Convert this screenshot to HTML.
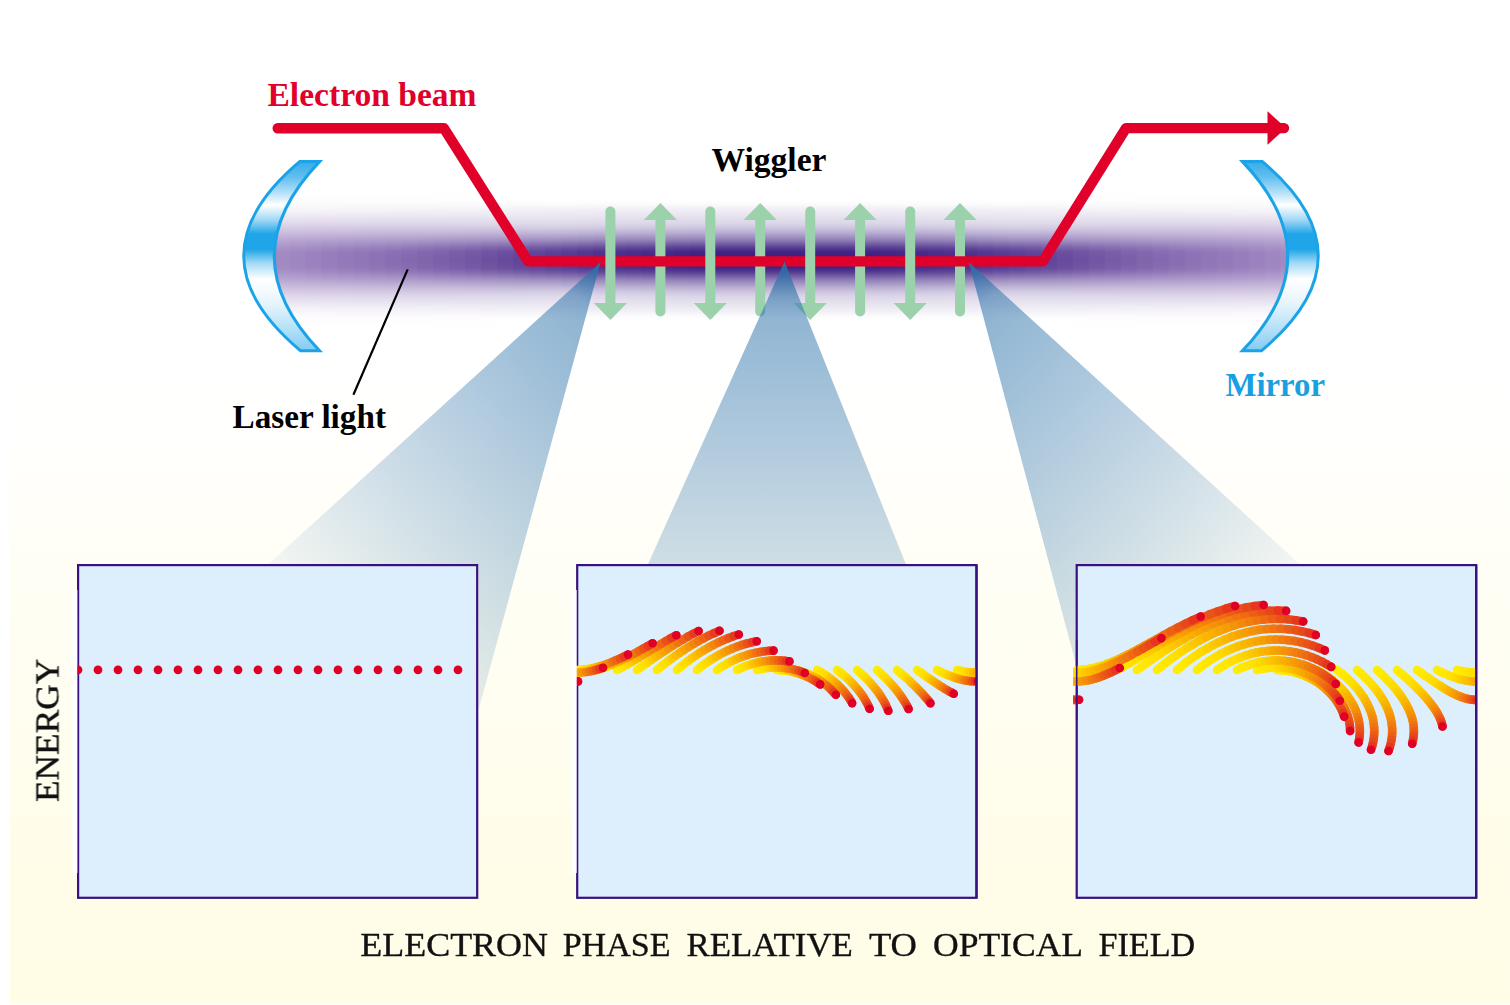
<!DOCTYPE html>
<html><head><meta charset="utf-8"><title>Free-electron laser</title>
<style>
html,body{margin:0;padding:0;background:#fff;}
body{width:1510px;height:1005px;overflow:hidden;font-family:"Liberation Serif",serif;}
svg{display:block;position:absolute;left:0;top:0;}
text{font-family:"Liberation Serif",serif;}
</style></head><body>
<svg width="1510" height="1005" viewBox="0 0 1510 1005">
<defs>
<linearGradient id="bg" x1="0" y1="0" x2="0" y2="1">
<stop offset="0" stop-color="#ffffff"/><stop offset="0.38" stop-color="#ffffff"/><stop offset="0.60" stop-color="#fffef4"/><stop offset="0.85" stop-color="#fffde9"/><stop offset="1" stop-color="#fffde6"/>
</linearGradient>
<linearGradient id="beamA" x1="0" y1="186" x2="0" y2="336" gradientUnits="userSpaceOnUse">
<stop offset="0" stop-color="#9a80bb" stop-opacity="0"/>
<stop offset="0.12" stop-color="#9a80bb" stop-opacity="0.10"/>
<stop offset="0.25" stop-color="#9a80bb" stop-opacity="0.42"/>
<stop offset="0.38" stop-color="#9a80bb" stop-opacity="0.82"/>
<stop offset="0.5" stop-color="#987dba" stop-opacity="1"/>
<stop offset="0.62" stop-color="#9a80bb" stop-opacity="0.82"/>
<stop offset="0.75" stop-color="#9a80bb" stop-opacity="0.42"/>
<stop offset="0.88" stop-color="#9a80bb" stop-opacity="0.10"/>
<stop offset="1" stop-color="#9a80bb" stop-opacity="0"/>
</linearGradient>
<radialGradient id="beamB" cx="0" cy="0" r="1" gradientUnits="userSpaceOnUse" gradientTransform="translate(785 261) scale(400 46)">
<stop offset="0" stop-color="#3a1a82" stop-opacity="1"/>
<stop offset="0.35" stop-color="#3d1d84" stop-opacity="0.92"/>
<stop offset="0.6" stop-color="#45258a" stop-opacity="0.65"/>
<stop offset="0.8" stop-color="#4d2d90" stop-opacity="0.32"/>
<stop offset="1" stop-color="#553596" stop-opacity="0"/>
</radialGradient>
<linearGradient id="mir" x1="0" y1="160" x2="0" y2="352" gradientUnits="userSpaceOnUse">
<stop offset="0" stop-color="#32aaea"/>
<stop offset="0.09" stop-color="#62bfef"/>
<stop offset="0.17" stop-color="#b5e0f8"/>
<stop offset="0.235" stop-color="#ffffff"/>
<stop offset="0.315" stop-color="#9dd6f5"/>
<stop offset="0.385" stop-color="#20a5e8"/>
<stop offset="0.465" stop-color="#20a5e8"/>
<stop offset="0.535" stop-color="#a0d8f5"/>
<stop offset="0.62" stop-color="#ffffff"/>
<stop offset="0.75" stop-color="#e6f4fc"/>
<stop offset="0.89" stop-color="#b0dff7"/>
<stop offset="1" stop-color="#7fcaf2"/>
</linearGradient>
<linearGradient id="cone1" x1="600.7" y1="262" x2="236.6" y2="589.8" gradientUnits="userSpaceOnUse">
<stop offset="0" stop-color="#2d73aa" stop-opacity="0.95"/>
<stop offset="0.031" stop-color="#2d73aa" stop-opacity="0.72"/>
<stop offset="0.082" stop-color="#2d73aa" stop-opacity="0.545"/>
<stop offset="0.5" stop-color="#2d73aa" stop-opacity="0.30"/>
<stop offset="1" stop-color="#2d73aa" stop-opacity="0"/>
</linearGradient>
<linearGradient id="cone2" x1="784.5" y1="261.5" x2="784.5" y2="751.5" gradientUnits="userSpaceOnUse">
<stop offset="0" stop-color="#2d73aa" stop-opacity="0.95"/>
<stop offset="0.031" stop-color="#2d73aa" stop-opacity="0.72"/>
<stop offset="0.082" stop-color="#2d73aa" stop-opacity="0.545"/>
<stop offset="0.5" stop-color="#2d73aa" stop-opacity="0.30"/>
<stop offset="1" stop-color="#2d73aa" stop-opacity="0"/>
</linearGradient>
<linearGradient id="cone3" x1="968.7" y1="262" x2="1332.8" y2="589.8" gradientUnits="userSpaceOnUse">
<stop offset="0" stop-color="#2d73aa" stop-opacity="0.95"/>
<stop offset="0.031" stop-color="#2d73aa" stop-opacity="0.72"/>
<stop offset="0.082" stop-color="#2d73aa" stop-opacity="0.545"/>
<stop offset="0.5" stop-color="#2d73aa" stop-opacity="0.30"/>
<stop offset="1" stop-color="#2d73aa" stop-opacity="0"/>
</linearGradient>
<linearGradient id="bs0" x1="0" y1="188.0" x2="0" y2="332.0" gradientUnits="userSpaceOnUse"><stop offset="0.0000" stop-color="#ffffff"/><stop offset="0.0278" stop-color="#ffffff"/><stop offset="0.0556" stop-color="#ffffff"/><stop offset="0.0833" stop-color="#ffffff"/><stop offset="0.1111" stop-color="#fbfafc"/><stop offset="0.1389" stop-color="#f3f1f7"/><stop offset="0.1667" stop-color="#edeaf3"/><stop offset="0.1944" stop-color="#e7e3ef"/><stop offset="0.2222" stop-color="#e0dceb"/><stop offset="0.2500" stop-color="#dad4e7"/><stop offset="0.2778" stop-color="#cdc5de"/><stop offset="0.3056" stop-color="#bcb1d3"/><stop offset="0.3333" stop-color="#a699c5"/><stop offset="0.3611" stop-color="#8f7eb6"/><stop offset="0.3889" stop-color="#725ca3"/><stop offset="0.4167" stop-color="#553b90"/><stop offset="0.4444" stop-color="#412483"/><stop offset="0.4722" stop-color="#3e2182"/><stop offset="0.5000" stop-color="#3b1e80"/><stop offset="0.5278" stop-color="#3e2182"/><stop offset="0.5556" stop-color="#412483"/><stop offset="0.5833" stop-color="#553b90"/><stop offset="0.6111" stop-color="#725ca3"/><stop offset="0.6389" stop-color="#8f7eb6"/><stop offset="0.6667" stop-color="#a699c5"/><stop offset="0.6944" stop-color="#bcb1d3"/><stop offset="0.7222" stop-color="#cdc5de"/><stop offset="0.7500" stop-color="#dad4e7"/><stop offset="0.7778" stop-color="#e0dceb"/><stop offset="0.8056" stop-color="#e7e3ef"/><stop offset="0.8333" stop-color="#edeaf3"/><stop offset="0.8611" stop-color="#f3f1f7"/><stop offset="0.8889" stop-color="#fbfafc"/><stop offset="0.9167" stop-color="#ffffff"/><stop offset="0.9444" stop-color="#ffffff"/><stop offset="0.9722" stop-color="#ffffff"/><stop offset="1.0000" stop-color="#ffffff"/></linearGradient>
<linearGradient id="bs1" x1="0" y1="188.0" x2="0" y2="332.0" gradientUnits="userSpaceOnUse"><stop offset="0.0000" stop-color="#ffffff"/><stop offset="0.0278" stop-color="#ffffff"/><stop offset="0.0556" stop-color="#ffffff"/><stop offset="0.0833" stop-color="#ffffff"/><stop offset="0.1111" stop-color="#fbfafc"/><stop offset="0.1389" stop-color="#f3f1f7"/><stop offset="0.1667" stop-color="#edeaf3"/><stop offset="0.1944" stop-color="#e7e3ef"/><stop offset="0.2222" stop-color="#e1dceb"/><stop offset="0.2500" stop-color="#dad4e7"/><stop offset="0.2778" stop-color="#cdc5de"/><stop offset="0.3056" stop-color="#bcb1d3"/><stop offset="0.3333" stop-color="#a699c5"/><stop offset="0.3611" stop-color="#8f7eb6"/><stop offset="0.3889" stop-color="#725ca3"/><stop offset="0.4167" stop-color="#553b90"/><stop offset="0.4444" stop-color="#412484"/><stop offset="0.4722" stop-color="#3e2182"/><stop offset="0.5000" stop-color="#3b1e80"/><stop offset="0.5278" stop-color="#3e2182"/><stop offset="0.5556" stop-color="#412484"/><stop offset="0.5833" stop-color="#553b90"/><stop offset="0.6111" stop-color="#725ca3"/><stop offset="0.6389" stop-color="#8f7eb6"/><stop offset="0.6667" stop-color="#a699c5"/><stop offset="0.6944" stop-color="#bcb1d3"/><stop offset="0.7222" stop-color="#cdc5de"/><stop offset="0.7500" stop-color="#dad4e7"/><stop offset="0.7778" stop-color="#e1dceb"/><stop offset="0.8056" stop-color="#e7e3ef"/><stop offset="0.8333" stop-color="#edeaf3"/><stop offset="0.8611" stop-color="#f3f1f7"/><stop offset="0.8889" stop-color="#fbfafc"/><stop offset="0.9167" stop-color="#ffffff"/><stop offset="0.9444" stop-color="#ffffff"/><stop offset="0.9722" stop-color="#ffffff"/><stop offset="1.0000" stop-color="#ffffff"/></linearGradient>
<linearGradient id="bs2" x1="0" y1="188.0" x2="0" y2="332.0" gradientUnits="userSpaceOnUse"><stop offset="0.0000" stop-color="#ffffff"/><stop offset="0.0278" stop-color="#ffffff"/><stop offset="0.0556" stop-color="#ffffff"/><stop offset="0.0833" stop-color="#ffffff"/><stop offset="0.1111" stop-color="#fbfafc"/><stop offset="0.1389" stop-color="#f3f1f7"/><stop offset="0.1667" stop-color="#edeaf3"/><stop offset="0.1944" stop-color="#e7e3ef"/><stop offset="0.2222" stop-color="#e1dceb"/><stop offset="0.2500" stop-color="#dad4e7"/><stop offset="0.2778" stop-color="#cdc5de"/><stop offset="0.3056" stop-color="#bcb1d3"/><stop offset="0.3333" stop-color="#a699c5"/><stop offset="0.3611" stop-color="#8f7eb6"/><stop offset="0.3889" stop-color="#725ca3"/><stop offset="0.4167" stop-color="#553b90"/><stop offset="0.4444" stop-color="#412484"/><stop offset="0.4722" stop-color="#3e2182"/><stop offset="0.5000" stop-color="#3b1e80"/><stop offset="0.5278" stop-color="#3e2182"/><stop offset="0.5556" stop-color="#412484"/><stop offset="0.5833" stop-color="#553b90"/><stop offset="0.6111" stop-color="#725ca3"/><stop offset="0.6389" stop-color="#8f7eb6"/><stop offset="0.6667" stop-color="#a699c5"/><stop offset="0.6944" stop-color="#bcb1d3"/><stop offset="0.7222" stop-color="#cdc5de"/><stop offset="0.7500" stop-color="#dad4e7"/><stop offset="0.7778" stop-color="#e1dceb"/><stop offset="0.8056" stop-color="#e7e3ef"/><stop offset="0.8333" stop-color="#edeaf3"/><stop offset="0.8611" stop-color="#f3f1f7"/><stop offset="0.8889" stop-color="#fbfafc"/><stop offset="0.9167" stop-color="#ffffff"/><stop offset="0.9444" stop-color="#ffffff"/><stop offset="0.9722" stop-color="#ffffff"/><stop offset="1.0000" stop-color="#ffffff"/></linearGradient>
<linearGradient id="bs3" x1="0" y1="188.0" x2="0" y2="332.0" gradientUnits="userSpaceOnUse"><stop offset="0.0000" stop-color="#ffffff"/><stop offset="0.0278" stop-color="#ffffff"/><stop offset="0.0556" stop-color="#ffffff"/><stop offset="0.0833" stop-color="#ffffff"/><stop offset="0.1111" stop-color="#fbfafc"/><stop offset="0.1389" stop-color="#f3f1f7"/><stop offset="0.1667" stop-color="#edeaf3"/><stop offset="0.1944" stop-color="#e7e3ef"/><stop offset="0.2222" stop-color="#e1dceb"/><stop offset="0.2500" stop-color="#dad4e7"/><stop offset="0.2778" stop-color="#cdc5de"/><stop offset="0.3056" stop-color="#bcb1d3"/><stop offset="0.3333" stop-color="#a699c5"/><stop offset="0.3611" stop-color="#8f7eb6"/><stop offset="0.3889" stop-color="#725ca3"/><stop offset="0.4167" stop-color="#553b91"/><stop offset="0.4444" stop-color="#422484"/><stop offset="0.4722" stop-color="#3f2182"/><stop offset="0.5000" stop-color="#3c1e80"/><stop offset="0.5278" stop-color="#3f2182"/><stop offset="0.5556" stop-color="#422484"/><stop offset="0.5833" stop-color="#553b91"/><stop offset="0.6111" stop-color="#725ca3"/><stop offset="0.6389" stop-color="#8f7eb6"/><stop offset="0.6667" stop-color="#a699c5"/><stop offset="0.6944" stop-color="#bcb1d3"/><stop offset="0.7222" stop-color="#cdc5de"/><stop offset="0.7500" stop-color="#dad4e7"/><stop offset="0.7778" stop-color="#e1dceb"/><stop offset="0.8056" stop-color="#e7e3ef"/><stop offset="0.8333" stop-color="#edeaf3"/><stop offset="0.8611" stop-color="#f3f1f7"/><stop offset="0.8889" stop-color="#fbfafc"/><stop offset="0.9167" stop-color="#ffffff"/><stop offset="0.9444" stop-color="#ffffff"/><stop offset="0.9722" stop-color="#ffffff"/><stop offset="1.0000" stop-color="#ffffff"/></linearGradient>
<linearGradient id="bs4" x1="0" y1="188.0" x2="0" y2="332.0" gradientUnits="userSpaceOnUse"><stop offset="0.0000" stop-color="#ffffff"/><stop offset="0.0278" stop-color="#ffffff"/><stop offset="0.0556" stop-color="#ffffff"/><stop offset="0.0833" stop-color="#ffffff"/><stop offset="0.1111" stop-color="#fbfafc"/><stop offset="0.1389" stop-color="#f3f1f7"/><stop offset="0.1667" stop-color="#edeaf3"/><stop offset="0.1944" stop-color="#e7e3ef"/><stop offset="0.2222" stop-color="#e1dceb"/><stop offset="0.2500" stop-color="#dad4e7"/><stop offset="0.2778" stop-color="#cdc5de"/><stop offset="0.3056" stop-color="#bcb1d3"/><stop offset="0.3333" stop-color="#a799c5"/><stop offset="0.3611" stop-color="#8f7eb6"/><stop offset="0.3889" stop-color="#725ca4"/><stop offset="0.4167" stop-color="#553b91"/><stop offset="0.4444" stop-color="#422484"/><stop offset="0.4722" stop-color="#3f2182"/><stop offset="0.5000" stop-color="#3c1e80"/><stop offset="0.5278" stop-color="#3f2182"/><stop offset="0.5556" stop-color="#422484"/><stop offset="0.5833" stop-color="#553b91"/><stop offset="0.6111" stop-color="#725ca4"/><stop offset="0.6389" stop-color="#8f7eb6"/><stop offset="0.6667" stop-color="#a799c5"/><stop offset="0.6944" stop-color="#bcb1d3"/><stop offset="0.7222" stop-color="#cdc5de"/><stop offset="0.7500" stop-color="#dad4e7"/><stop offset="0.7778" stop-color="#e1dceb"/><stop offset="0.8056" stop-color="#e7e3ef"/><stop offset="0.8333" stop-color="#edeaf3"/><stop offset="0.8611" stop-color="#f3f1f7"/><stop offset="0.8889" stop-color="#fbfafc"/><stop offset="0.9167" stop-color="#ffffff"/><stop offset="0.9444" stop-color="#ffffff"/><stop offset="0.9722" stop-color="#ffffff"/><stop offset="1.0000" stop-color="#ffffff"/></linearGradient>
<linearGradient id="bs5" x1="0" y1="188.0" x2="0" y2="332.0" gradientUnits="userSpaceOnUse"><stop offset="0.0000" stop-color="#ffffff"/><stop offset="0.0278" stop-color="#ffffff"/><stop offset="0.0556" stop-color="#ffffff"/><stop offset="0.0833" stop-color="#ffffff"/><stop offset="0.1111" stop-color="#fbfafc"/><stop offset="0.1389" stop-color="#f3f1f7"/><stop offset="0.1667" stop-color="#edeaf3"/><stop offset="0.1944" stop-color="#e7e3ef"/><stop offset="0.2222" stop-color="#e1dceb"/><stop offset="0.2500" stop-color="#dad4e7"/><stop offset="0.2778" stop-color="#cdc5df"/><stop offset="0.3056" stop-color="#bcb1d3"/><stop offset="0.3333" stop-color="#a799c6"/><stop offset="0.3611" stop-color="#907eb7"/><stop offset="0.3889" stop-color="#735da4"/><stop offset="0.4167" stop-color="#563b91"/><stop offset="0.4444" stop-color="#422584"/><stop offset="0.4722" stop-color="#3f2182"/><stop offset="0.5000" stop-color="#3c1e81"/><stop offset="0.5278" stop-color="#3f2182"/><stop offset="0.5556" stop-color="#422584"/><stop offset="0.5833" stop-color="#563b91"/><stop offset="0.6111" stop-color="#735da4"/><stop offset="0.6389" stop-color="#907eb7"/><stop offset="0.6667" stop-color="#a799c6"/><stop offset="0.6944" stop-color="#bcb1d3"/><stop offset="0.7222" stop-color="#cdc5df"/><stop offset="0.7500" stop-color="#dad4e7"/><stop offset="0.7778" stop-color="#e1dceb"/><stop offset="0.8056" stop-color="#e7e3ef"/><stop offset="0.8333" stop-color="#edeaf3"/><stop offset="0.8611" stop-color="#f3f1f7"/><stop offset="0.8889" stop-color="#fbfafc"/><stop offset="0.9167" stop-color="#ffffff"/><stop offset="0.9444" stop-color="#ffffff"/><stop offset="0.9722" stop-color="#ffffff"/><stop offset="1.0000" stop-color="#ffffff"/></linearGradient>
<linearGradient id="bs6" x1="0" y1="188.0" x2="0" y2="332.0" gradientUnits="userSpaceOnUse"><stop offset="0.0000" stop-color="#ffffff"/><stop offset="0.0278" stop-color="#ffffff"/><stop offset="0.0556" stop-color="#ffffff"/><stop offset="0.0833" stop-color="#ffffff"/><stop offset="0.1111" stop-color="#fbfbfd"/><stop offset="0.1389" stop-color="#f3f2f8"/><stop offset="0.1667" stop-color="#edeaf3"/><stop offset="0.1944" stop-color="#e7e4f0"/><stop offset="0.2222" stop-color="#e1dcec"/><stop offset="0.2500" stop-color="#dad5e7"/><stop offset="0.2778" stop-color="#cec6df"/><stop offset="0.3056" stop-color="#bdb2d4"/><stop offset="0.3333" stop-color="#a89ac6"/><stop offset="0.3611" stop-color="#9180b8"/><stop offset="0.3889" stop-color="#745fa5"/><stop offset="0.4167" stop-color="#583d92"/><stop offset="0.4444" stop-color="#452786"/><stop offset="0.4722" stop-color="#422484"/><stop offset="0.5000" stop-color="#3f2182"/><stop offset="0.5278" stop-color="#422484"/><stop offset="0.5556" stop-color="#452786"/><stop offset="0.5833" stop-color="#583d92"/><stop offset="0.6111" stop-color="#745fa5"/><stop offset="0.6389" stop-color="#9180b8"/><stop offset="0.6667" stop-color="#a89ac6"/><stop offset="0.6944" stop-color="#bdb2d4"/><stop offset="0.7222" stop-color="#cec6df"/><stop offset="0.7500" stop-color="#dad5e7"/><stop offset="0.7778" stop-color="#e1dcec"/><stop offset="0.8056" stop-color="#e7e4f0"/><stop offset="0.8333" stop-color="#edeaf3"/><stop offset="0.8611" stop-color="#f3f2f8"/><stop offset="0.8889" stop-color="#fbfbfd"/><stop offset="0.9167" stop-color="#ffffff"/><stop offset="0.9444" stop-color="#ffffff"/><stop offset="0.9722" stop-color="#ffffff"/><stop offset="1.0000" stop-color="#ffffff"/></linearGradient>
<linearGradient id="bs7" x1="0" y1="188.0" x2="0" y2="332.0" gradientUnits="userSpaceOnUse"><stop offset="0.0000" stop-color="#ffffff"/><stop offset="0.0278" stop-color="#ffffff"/><stop offset="0.0556" stop-color="#ffffff"/><stop offset="0.0833" stop-color="#ffffff"/><stop offset="0.1111" stop-color="#fbfbfd"/><stop offset="0.1389" stop-color="#f4f2f8"/><stop offset="0.1667" stop-color="#edeaf3"/><stop offset="0.1944" stop-color="#e8e4f0"/><stop offset="0.2222" stop-color="#e1ddec"/><stop offset="0.2500" stop-color="#dbd5e8"/><stop offset="0.2778" stop-color="#cec7df"/><stop offset="0.3056" stop-color="#beb3d5"/><stop offset="0.3333" stop-color="#a99bc7"/><stop offset="0.3611" stop-color="#9281b8"/><stop offset="0.3889" stop-color="#7660a6"/><stop offset="0.4167" stop-color="#5a4094"/><stop offset="0.4444" stop-color="#472a87"/><stop offset="0.4722" stop-color="#442686"/><stop offset="0.5000" stop-color="#412384"/><stop offset="0.5278" stop-color="#442686"/><stop offset="0.5556" stop-color="#472a87"/><stop offset="0.5833" stop-color="#5a4094"/><stop offset="0.6111" stop-color="#7660a6"/><stop offset="0.6389" stop-color="#9281b8"/><stop offset="0.6667" stop-color="#a99bc7"/><stop offset="0.6944" stop-color="#beb3d5"/><stop offset="0.7222" stop-color="#cec7df"/><stop offset="0.7500" stop-color="#dbd5e8"/><stop offset="0.7778" stop-color="#e1ddec"/><stop offset="0.8056" stop-color="#e8e4f0"/><stop offset="0.8333" stop-color="#edeaf3"/><stop offset="0.8611" stop-color="#f4f2f8"/><stop offset="0.8889" stop-color="#fbfbfd"/><stop offset="0.9167" stop-color="#ffffff"/><stop offset="0.9444" stop-color="#ffffff"/><stop offset="0.9722" stop-color="#ffffff"/><stop offset="1.0000" stop-color="#ffffff"/></linearGradient>
<linearGradient id="bs8" x1="0" y1="188.0" x2="0" y2="332.0" gradientUnits="userSpaceOnUse"><stop offset="0.0000" stop-color="#ffffff"/><stop offset="0.0278" stop-color="#ffffff"/><stop offset="0.0556" stop-color="#ffffff"/><stop offset="0.0833" stop-color="#ffffff"/><stop offset="0.1111" stop-color="#fbfbfd"/><stop offset="0.1389" stop-color="#f4f2f8"/><stop offset="0.1667" stop-color="#edebf4"/><stop offset="0.1944" stop-color="#e8e4f0"/><stop offset="0.2222" stop-color="#e2ddec"/><stop offset="0.2500" stop-color="#dbd6e8"/><stop offset="0.2778" stop-color="#cfc7e0"/><stop offset="0.3056" stop-color="#beb4d5"/><stop offset="0.3333" stop-color="#aa9cc8"/><stop offset="0.3611" stop-color="#9483b9"/><stop offset="0.3889" stop-color="#7862a7"/><stop offset="0.4167" stop-color="#5c4295"/><stop offset="0.4444" stop-color="#492c89"/><stop offset="0.4722" stop-color="#462987"/><stop offset="0.5000" stop-color="#442685"/><stop offset="0.5278" stop-color="#462987"/><stop offset="0.5556" stop-color="#492c89"/><stop offset="0.5833" stop-color="#5c4295"/><stop offset="0.6111" stop-color="#7862a7"/><stop offset="0.6389" stop-color="#9483b9"/><stop offset="0.6667" stop-color="#aa9cc8"/><stop offset="0.6944" stop-color="#beb4d5"/><stop offset="0.7222" stop-color="#cfc7e0"/><stop offset="0.7500" stop-color="#dbd6e8"/><stop offset="0.7778" stop-color="#e2ddec"/><stop offset="0.8056" stop-color="#e8e4f0"/><stop offset="0.8333" stop-color="#edebf4"/><stop offset="0.8611" stop-color="#f4f2f8"/><stop offset="0.8889" stop-color="#fbfbfd"/><stop offset="0.9167" stop-color="#ffffff"/><stop offset="0.9444" stop-color="#ffffff"/><stop offset="0.9722" stop-color="#ffffff"/><stop offset="1.0000" stop-color="#ffffff"/></linearGradient>
<linearGradient id="bs9" x1="0" y1="188.0" x2="0" y2="332.0" gradientUnits="userSpaceOnUse"><stop offset="0.0000" stop-color="#ffffff"/><stop offset="0.0278" stop-color="#ffffff"/><stop offset="0.0556" stop-color="#ffffff"/><stop offset="0.0833" stop-color="#ffffff"/><stop offset="0.1111" stop-color="#fbfbfd"/><stop offset="0.1389" stop-color="#f4f2f8"/><stop offset="0.1667" stop-color="#eeebf4"/><stop offset="0.1944" stop-color="#e8e5f0"/><stop offset="0.2222" stop-color="#e2deec"/><stop offset="0.2500" stop-color="#dcd6e8"/><stop offset="0.2778" stop-color="#d0c8e0"/><stop offset="0.3056" stop-color="#bfb5d6"/><stop offset="0.3333" stop-color="#ab9ec9"/><stop offset="0.3611" stop-color="#9584ba"/><stop offset="0.3889" stop-color="#7a64a8"/><stop offset="0.4167" stop-color="#5e4496"/><stop offset="0.4444" stop-color="#4c2f8a"/><stop offset="0.4722" stop-color="#492b89"/><stop offset="0.5000" stop-color="#462887"/><stop offset="0.5278" stop-color="#492b89"/><stop offset="0.5556" stop-color="#4c2f8a"/><stop offset="0.5833" stop-color="#5e4496"/><stop offset="0.6111" stop-color="#7a64a8"/><stop offset="0.6389" stop-color="#9584ba"/><stop offset="0.6667" stop-color="#ab9ec9"/><stop offset="0.6944" stop-color="#bfb5d6"/><stop offset="0.7222" stop-color="#d0c8e0"/><stop offset="0.7500" stop-color="#dcd6e8"/><stop offset="0.7778" stop-color="#e2deec"/><stop offset="0.8056" stop-color="#e8e5f0"/><stop offset="0.8333" stop-color="#eeebf4"/><stop offset="0.8611" stop-color="#f4f2f8"/><stop offset="0.8889" stop-color="#fbfbfd"/><stop offset="0.9167" stop-color="#ffffff"/><stop offset="0.9444" stop-color="#ffffff"/><stop offset="0.9722" stop-color="#ffffff"/><stop offset="1.0000" stop-color="#ffffff"/></linearGradient>
<linearGradient id="bs10" x1="0" y1="188.0" x2="0" y2="332.0" gradientUnits="userSpaceOnUse"><stop offset="0.0000" stop-color="#ffffff"/><stop offset="0.0278" stop-color="#ffffff"/><stop offset="0.0556" stop-color="#ffffff"/><stop offset="0.0833" stop-color="#ffffff"/><stop offset="0.1111" stop-color="#fbfbfd"/><stop offset="0.1389" stop-color="#f4f2f8"/><stop offset="0.1667" stop-color="#eeebf4"/><stop offset="0.1944" stop-color="#e9e5f0"/><stop offset="0.2222" stop-color="#e3deed"/><stop offset="0.2500" stop-color="#dcd7e8"/><stop offset="0.2778" stop-color="#d0c9e1"/><stop offset="0.3056" stop-color="#c0b6d6"/><stop offset="0.3333" stop-color="#ac9fc9"/><stop offset="0.3611" stop-color="#9786bb"/><stop offset="0.3889" stop-color="#7b66a9"/><stop offset="0.4167" stop-color="#604698"/><stop offset="0.4444" stop-color="#4e318c"/><stop offset="0.4722" stop-color="#4b2e8a"/><stop offset="0.5000" stop-color="#482b88"/><stop offset="0.5278" stop-color="#4b2e8a"/><stop offset="0.5556" stop-color="#4e318c"/><stop offset="0.5833" stop-color="#604698"/><stop offset="0.6111" stop-color="#7b66a9"/><stop offset="0.6389" stop-color="#9786bb"/><stop offset="0.6667" stop-color="#ac9fc9"/><stop offset="0.6944" stop-color="#c0b6d6"/><stop offset="0.7222" stop-color="#d0c9e1"/><stop offset="0.7500" stop-color="#dcd7e8"/><stop offset="0.7778" stop-color="#e3deed"/><stop offset="0.8056" stop-color="#e9e5f0"/><stop offset="0.8333" stop-color="#eeebf4"/><stop offset="0.8611" stop-color="#f4f2f8"/><stop offset="0.8889" stop-color="#fbfbfd"/><stop offset="0.9167" stop-color="#ffffff"/><stop offset="0.9444" stop-color="#ffffff"/><stop offset="0.9722" stop-color="#ffffff"/><stop offset="1.0000" stop-color="#ffffff"/></linearGradient>
<linearGradient id="bs11" x1="0" y1="188.0" x2="0" y2="332.0" gradientUnits="userSpaceOnUse"><stop offset="0.0000" stop-color="#ffffff"/><stop offset="0.0278" stop-color="#ffffff"/><stop offset="0.0556" stop-color="#ffffff"/><stop offset="0.0833" stop-color="#ffffff"/><stop offset="0.1111" stop-color="#fbfbfd"/><stop offset="0.1389" stop-color="#f4f2f8"/><stop offset="0.1667" stop-color="#eeebf4"/><stop offset="0.1944" stop-color="#e9e5f1"/><stop offset="0.2222" stop-color="#e3deed"/><stop offset="0.2500" stop-color="#ddd7e9"/><stop offset="0.2778" stop-color="#d1c9e1"/><stop offset="0.3056" stop-color="#c1b7d7"/><stop offset="0.3333" stop-color="#ada0ca"/><stop offset="0.3611" stop-color="#9887bc"/><stop offset="0.3889" stop-color="#7d68ab"/><stop offset="0.4167" stop-color="#624999"/><stop offset="0.4444" stop-color="#50348d"/><stop offset="0.4722" stop-color="#4e308c"/><stop offset="0.5000" stop-color="#4b2d8a"/><stop offset="0.5278" stop-color="#4e308c"/><stop offset="0.5556" stop-color="#50348d"/><stop offset="0.5833" stop-color="#624999"/><stop offset="0.6111" stop-color="#7d68ab"/><stop offset="0.6389" stop-color="#9887bc"/><stop offset="0.6667" stop-color="#ada0ca"/><stop offset="0.6944" stop-color="#c1b7d7"/><stop offset="0.7222" stop-color="#d1c9e1"/><stop offset="0.7500" stop-color="#ddd7e9"/><stop offset="0.7778" stop-color="#e3deed"/><stop offset="0.8056" stop-color="#e9e5f1"/><stop offset="0.8333" stop-color="#eeebf4"/><stop offset="0.8611" stop-color="#f4f2f8"/><stop offset="0.8889" stop-color="#fbfbfd"/><stop offset="0.9167" stop-color="#ffffff"/><stop offset="0.9444" stop-color="#ffffff"/><stop offset="0.9722" stop-color="#ffffff"/><stop offset="1.0000" stop-color="#ffffff"/></linearGradient>
<linearGradient id="bs12" x1="0" y1="188.0" x2="0" y2="332.0" gradientUnits="userSpaceOnUse"><stop offset="0.0000" stop-color="#ffffff"/><stop offset="0.0278" stop-color="#ffffff"/><stop offset="0.0556" stop-color="#ffffff"/><stop offset="0.0833" stop-color="#ffffff"/><stop offset="0.1111" stop-color="#fbfbfd"/><stop offset="0.1389" stop-color="#f4f3f8"/><stop offset="0.1667" stop-color="#eeecf4"/><stop offset="0.1944" stop-color="#e9e6f1"/><stop offset="0.2222" stop-color="#e4dfed"/><stop offset="0.2500" stop-color="#ded8e9"/><stop offset="0.2778" stop-color="#d2cae2"/><stop offset="0.3056" stop-color="#c2b8d8"/><stop offset="0.3333" stop-color="#afa2cb"/><stop offset="0.3611" stop-color="#9a8abe"/><stop offset="0.3889" stop-color="#806bad"/><stop offset="0.4167" stop-color="#664d9c"/><stop offset="0.4444" stop-color="#553890"/><stop offset="0.4722" stop-color="#52358e"/><stop offset="0.5000" stop-color="#4f328d"/><stop offset="0.5278" stop-color="#52358e"/><stop offset="0.5556" stop-color="#553890"/><stop offset="0.5833" stop-color="#664d9c"/><stop offset="0.6111" stop-color="#806bad"/><stop offset="0.6389" stop-color="#9a8abe"/><stop offset="0.6667" stop-color="#afa2cb"/><stop offset="0.6944" stop-color="#c2b8d8"/><stop offset="0.7222" stop-color="#d2cae2"/><stop offset="0.7500" stop-color="#ded8e9"/><stop offset="0.7778" stop-color="#e4dfed"/><stop offset="0.8056" stop-color="#e9e6f1"/><stop offset="0.8333" stop-color="#eeecf4"/><stop offset="0.8611" stop-color="#f4f3f8"/><stop offset="0.8889" stop-color="#fbfbfd"/><stop offset="0.9167" stop-color="#ffffff"/><stop offset="0.9444" stop-color="#ffffff"/><stop offset="0.9722" stop-color="#ffffff"/><stop offset="1.0000" stop-color="#ffffff"/></linearGradient>
<linearGradient id="bs13" x1="0" y1="188.0" x2="0" y2="332.0" gradientUnits="userSpaceOnUse"><stop offset="0.0000" stop-color="#ffffff"/><stop offset="0.0278" stop-color="#ffffff"/><stop offset="0.0556" stop-color="#ffffff"/><stop offset="0.0833" stop-color="#ffffff"/><stop offset="0.1111" stop-color="#fcfbfd"/><stop offset="0.1389" stop-color="#f5f3f8"/><stop offset="0.1667" stop-color="#efecf5"/><stop offset="0.1944" stop-color="#eae6f1"/><stop offset="0.2222" stop-color="#e4e0ee"/><stop offset="0.2500" stop-color="#ded9ea"/><stop offset="0.2778" stop-color="#d3cce2"/><stop offset="0.3056" stop-color="#c4bad9"/><stop offset="0.3333" stop-color="#b1a4cd"/><stop offset="0.3611" stop-color="#9d8cbf"/><stop offset="0.3889" stop-color="#846faf"/><stop offset="0.4167" stop-color="#6a519e"/><stop offset="0.4444" stop-color="#593d93"/><stop offset="0.4722" stop-color="#563a91"/><stop offset="0.5000" stop-color="#543790"/><stop offset="0.5278" stop-color="#563a91"/><stop offset="0.5556" stop-color="#593d93"/><stop offset="0.5833" stop-color="#6a519e"/><stop offset="0.6111" stop-color="#846faf"/><stop offset="0.6389" stop-color="#9d8cbf"/><stop offset="0.6667" stop-color="#b1a4cd"/><stop offset="0.6944" stop-color="#c4bad9"/><stop offset="0.7222" stop-color="#d3cce2"/><stop offset="0.7500" stop-color="#ded9ea"/><stop offset="0.7778" stop-color="#e4e0ee"/><stop offset="0.8056" stop-color="#eae6f1"/><stop offset="0.8333" stop-color="#efecf5"/><stop offset="0.8611" stop-color="#f5f3f8"/><stop offset="0.8889" stop-color="#fcfbfd"/><stop offset="0.9167" stop-color="#ffffff"/><stop offset="0.9444" stop-color="#ffffff"/><stop offset="0.9722" stop-color="#ffffff"/><stop offset="1.0000" stop-color="#ffffff"/></linearGradient>
<linearGradient id="bs14" x1="0" y1="188.0" x2="0" y2="332.0" gradientUnits="userSpaceOnUse"><stop offset="0.0000" stop-color="#ffffff"/><stop offset="0.0278" stop-color="#ffffff"/><stop offset="0.0556" stop-color="#ffffff"/><stop offset="0.0833" stop-color="#ffffff"/><stop offset="0.1111" stop-color="#fcfbfd"/><stop offset="0.1389" stop-color="#f5f3f8"/><stop offset="0.1667" stop-color="#efecf5"/><stop offset="0.1944" stop-color="#eae7f2"/><stop offset="0.2222" stop-color="#e5e0ee"/><stop offset="0.2500" stop-color="#dfdaea"/><stop offset="0.2778" stop-color="#d4cce3"/><stop offset="0.3056" stop-color="#c5bbda"/><stop offset="0.3333" stop-color="#b3a6ce"/><stop offset="0.3611" stop-color="#9f8fc1"/><stop offset="0.3889" stop-color="#8772b1"/><stop offset="0.4167" stop-color="#6e54a1"/><stop offset="0.4444" stop-color="#5d4196"/><stop offset="0.4722" stop-color="#5b3e94"/><stop offset="0.5000" stop-color="#583b93"/><stop offset="0.5278" stop-color="#5b3e94"/><stop offset="0.5556" stop-color="#5d4196"/><stop offset="0.5833" stop-color="#6e54a1"/><stop offset="0.6111" stop-color="#8772b1"/><stop offset="0.6389" stop-color="#9f8fc1"/><stop offset="0.6667" stop-color="#b3a6ce"/><stop offset="0.6944" stop-color="#c5bbda"/><stop offset="0.7222" stop-color="#d4cce3"/><stop offset="0.7500" stop-color="#dfdaea"/><stop offset="0.7778" stop-color="#e5e0ee"/><stop offset="0.8056" stop-color="#eae7f2"/><stop offset="0.8333" stop-color="#efecf5"/><stop offset="0.8611" stop-color="#f5f3f8"/><stop offset="0.8889" stop-color="#fcfbfd"/><stop offset="0.9167" stop-color="#ffffff"/><stop offset="0.9444" stop-color="#ffffff"/><stop offset="0.9722" stop-color="#ffffff"/><stop offset="1.0000" stop-color="#ffffff"/></linearGradient>
<linearGradient id="bs15" x1="0" y1="188.0" x2="0" y2="332.0" gradientUnits="userSpaceOnUse"><stop offset="0.0000" stop-color="#ffffff"/><stop offset="0.0278" stop-color="#ffffff"/><stop offset="0.0556" stop-color="#ffffff"/><stop offset="0.0833" stop-color="#ffffff"/><stop offset="0.1111" stop-color="#fbfbfd"/><stop offset="0.1389" stop-color="#f5f3f9"/><stop offset="0.1667" stop-color="#f0edf5"/><stop offset="0.1944" stop-color="#eae7f2"/><stop offset="0.2222" stop-color="#e5e0ee"/><stop offset="0.2500" stop-color="#dfd9ea"/><stop offset="0.2778" stop-color="#d4cce3"/><stop offset="0.3056" stop-color="#c5bbd9"/><stop offset="0.3333" stop-color="#b4a6ce"/><stop offset="0.3611" stop-color="#a08fc2"/><stop offset="0.3889" stop-color="#8973b2"/><stop offset="0.4167" stop-color="#7258a3"/><stop offset="0.4444" stop-color="#624599"/><stop offset="0.4722" stop-color="#5f4297"/><stop offset="0.5000" stop-color="#5d3f96"/><stop offset="0.5278" stop-color="#5f4297"/><stop offset="0.5556" stop-color="#624599"/><stop offset="0.5833" stop-color="#7258a3"/><stop offset="0.6111" stop-color="#8973b2"/><stop offset="0.6389" stop-color="#a08fc2"/><stop offset="0.6667" stop-color="#b4a6ce"/><stop offset="0.6944" stop-color="#c5bbd9"/><stop offset="0.7222" stop-color="#d4cce3"/><stop offset="0.7500" stop-color="#dfd9ea"/><stop offset="0.7778" stop-color="#e5e0ee"/><stop offset="0.8056" stop-color="#eae7f2"/><stop offset="0.8333" stop-color="#f0edf5"/><stop offset="0.8611" stop-color="#f5f3f9"/><stop offset="0.8889" stop-color="#fbfbfd"/><stop offset="0.9167" stop-color="#ffffff"/><stop offset="0.9444" stop-color="#ffffff"/><stop offset="0.9722" stop-color="#ffffff"/><stop offset="1.0000" stop-color="#ffffff"/></linearGradient>
<linearGradient id="bs16" x1="0" y1="188.0" x2="0" y2="332.0" gradientUnits="userSpaceOnUse"><stop offset="0.0000" stop-color="#ffffff"/><stop offset="0.0278" stop-color="#ffffff"/><stop offset="0.0556" stop-color="#ffffff"/><stop offset="0.0833" stop-color="#ffffff"/><stop offset="0.1111" stop-color="#fbfbfd"/><stop offset="0.1389" stop-color="#f5f3f9"/><stop offset="0.1667" stop-color="#f0edf5"/><stop offset="0.1944" stop-color="#eae7f2"/><stop offset="0.2222" stop-color="#e4dfee"/><stop offset="0.2500" stop-color="#ded8ea"/><stop offset="0.2778" stop-color="#d3cbe3"/><stop offset="0.3056" stop-color="#c5bad9"/><stop offset="0.3333" stop-color="#b4a6ce"/><stop offset="0.3611" stop-color="#a290c2"/><stop offset="0.3889" stop-color="#8c76b4"/><stop offset="0.4167" stop-color="#755ca6"/><stop offset="0.4444" stop-color="#664a9c"/><stop offset="0.4722" stop-color="#64479a"/><stop offset="0.5000" stop-color="#624499"/><stop offset="0.5278" stop-color="#64479a"/><stop offset="0.5556" stop-color="#664a9c"/><stop offset="0.5833" stop-color="#755ca6"/><stop offset="0.6111" stop-color="#8c76b4"/><stop offset="0.6389" stop-color="#a290c2"/><stop offset="0.6667" stop-color="#b4a6ce"/><stop offset="0.6944" stop-color="#c5bad9"/><stop offset="0.7222" stop-color="#d3cbe3"/><stop offset="0.7500" stop-color="#ded8ea"/><stop offset="0.7778" stop-color="#e4dfee"/><stop offset="0.8056" stop-color="#eae7f2"/><stop offset="0.8333" stop-color="#f0edf5"/><stop offset="0.8611" stop-color="#f5f3f9"/><stop offset="0.8889" stop-color="#fbfbfd"/><stop offset="0.9167" stop-color="#ffffff"/><stop offset="0.9444" stop-color="#ffffff"/><stop offset="0.9722" stop-color="#ffffff"/><stop offset="1.0000" stop-color="#ffffff"/></linearGradient>
<linearGradient id="bs17" x1="0" y1="188.0" x2="0" y2="332.0" gradientUnits="userSpaceOnUse"><stop offset="0.0000" stop-color="#ffffff"/><stop offset="0.0278" stop-color="#ffffff"/><stop offset="0.0556" stop-color="#ffffff"/><stop offset="0.0833" stop-color="#fefeff"/><stop offset="0.1111" stop-color="#fbfbfd"/><stop offset="0.1389" stop-color="#f5f4f9"/><stop offset="0.1667" stop-color="#f0edf5"/><stop offset="0.1944" stop-color="#ebe7f2"/><stop offset="0.2222" stop-color="#e4dfee"/><stop offset="0.2500" stop-color="#ded8ea"/><stop offset="0.2778" stop-color="#d3cbe2"/><stop offset="0.3056" stop-color="#c5bada"/><stop offset="0.3333" stop-color="#b5a7cf"/><stop offset="0.3611" stop-color="#a392c3"/><stop offset="0.3889" stop-color="#8e79b6"/><stop offset="0.4167" stop-color="#7a60a8"/><stop offset="0.4444" stop-color="#6c4f9f"/><stop offset="0.4722" stop-color="#694c9e"/><stop offset="0.5000" stop-color="#674a9c"/><stop offset="0.5278" stop-color="#694c9e"/><stop offset="0.5556" stop-color="#6c4f9f"/><stop offset="0.5833" stop-color="#7a60a8"/><stop offset="0.6111" stop-color="#8e79b6"/><stop offset="0.6389" stop-color="#a392c3"/><stop offset="0.6667" stop-color="#b5a7cf"/><stop offset="0.6944" stop-color="#c5bada"/><stop offset="0.7222" stop-color="#d3cbe2"/><stop offset="0.7500" stop-color="#ded8ea"/><stop offset="0.7778" stop-color="#e4dfee"/><stop offset="0.8056" stop-color="#ebe7f2"/><stop offset="0.8333" stop-color="#f0edf5"/><stop offset="0.8611" stop-color="#f5f4f9"/><stop offset="0.8889" stop-color="#fbfbfd"/><stop offset="0.9167" stop-color="#fefeff"/><stop offset="0.9444" stop-color="#ffffff"/><stop offset="0.9722" stop-color="#ffffff"/><stop offset="1.0000" stop-color="#ffffff"/></linearGradient>
<linearGradient id="bs18" x1="0" y1="188.0" x2="0" y2="332.0" gradientUnits="userSpaceOnUse"><stop offset="0.0000" stop-color="#ffffff"/><stop offset="0.0278" stop-color="#ffffff"/><stop offset="0.0556" stop-color="#fffeff"/><stop offset="0.0833" stop-color="#fefeff"/><stop offset="0.1111" stop-color="#fbfafd"/><stop offset="0.1389" stop-color="#f6f4f9"/><stop offset="0.1667" stop-color="#f0eef6"/><stop offset="0.1944" stop-color="#ebe7f2"/><stop offset="0.2222" stop-color="#e4dfee"/><stop offset="0.2500" stop-color="#ded7e9"/><stop offset="0.2778" stop-color="#d3cae2"/><stop offset="0.3056" stop-color="#c6bada"/><stop offset="0.3333" stop-color="#b6a7d0"/><stop offset="0.3611" stop-color="#a593c5"/><stop offset="0.3889" stop-color="#917bb8"/><stop offset="0.4167" stop-color="#7e64ab"/><stop offset="0.4444" stop-color="#7154a2"/><stop offset="0.4722" stop-color="#6e52a1"/><stop offset="0.5000" stop-color="#6d4fa0"/><stop offset="0.5278" stop-color="#6e52a1"/><stop offset="0.5556" stop-color="#7154a2"/><stop offset="0.5833" stop-color="#7e64ab"/><stop offset="0.6111" stop-color="#917bb8"/><stop offset="0.6389" stop-color="#a593c5"/><stop offset="0.6667" stop-color="#b6a7d0"/><stop offset="0.6944" stop-color="#c6bada"/><stop offset="0.7222" stop-color="#d3cae2"/><stop offset="0.7500" stop-color="#ded7e9"/><stop offset="0.7778" stop-color="#e4dfee"/><stop offset="0.8056" stop-color="#ebe7f2"/><stop offset="0.8333" stop-color="#f0eef6"/><stop offset="0.8611" stop-color="#f6f4f9"/><stop offset="0.8889" stop-color="#fbfafd"/><stop offset="0.9167" stop-color="#fefeff"/><stop offset="0.9444" stop-color="#fffeff"/><stop offset="0.9722" stop-color="#ffffff"/><stop offset="1.0000" stop-color="#ffffff"/></linearGradient>
<linearGradient id="bs19" x1="0" y1="188.0" x2="0" y2="332.0" gradientUnits="userSpaceOnUse"><stop offset="0.0000" stop-color="#ffffff"/><stop offset="0.0278" stop-color="#ffffff"/><stop offset="0.0556" stop-color="#fefeff"/><stop offset="0.0833" stop-color="#fefefe"/><stop offset="0.1111" stop-color="#fbfafc"/><stop offset="0.1389" stop-color="#f6f4f9"/><stop offset="0.1667" stop-color="#f1eef6"/><stop offset="0.1944" stop-color="#ebe7f2"/><stop offset="0.2222" stop-color="#e4dfee"/><stop offset="0.2500" stop-color="#ded7e9"/><stop offset="0.2778" stop-color="#d3cae3"/><stop offset="0.3056" stop-color="#c6bbda"/><stop offset="0.3333" stop-color="#b7a8d0"/><stop offset="0.3611" stop-color="#a795c6"/><stop offset="0.3889" stop-color="#947fba"/><stop offset="0.4167" stop-color="#8269ae"/><stop offset="0.4444" stop-color="#765aa6"/><stop offset="0.4722" stop-color="#7457a4"/><stop offset="0.5000" stop-color="#7255a3"/><stop offset="0.5278" stop-color="#7457a4"/><stop offset="0.5556" stop-color="#765aa6"/><stop offset="0.5833" stop-color="#8269ae"/><stop offset="0.6111" stop-color="#947fba"/><stop offset="0.6389" stop-color="#a795c6"/><stop offset="0.6667" stop-color="#b7a8d0"/><stop offset="0.6944" stop-color="#c6bbda"/><stop offset="0.7222" stop-color="#d3cae3"/><stop offset="0.7500" stop-color="#ded7e9"/><stop offset="0.7778" stop-color="#e4dfee"/><stop offset="0.8056" stop-color="#ebe7f2"/><stop offset="0.8333" stop-color="#f1eef6"/><stop offset="0.8611" stop-color="#f6f4f9"/><stop offset="0.8889" stop-color="#fbfafc"/><stop offset="0.9167" stop-color="#fefefe"/><stop offset="0.9444" stop-color="#fefeff"/><stop offset="0.9722" stop-color="#ffffff"/><stop offset="1.0000" stop-color="#ffffff"/></linearGradient>
<linearGradient id="bs20" x1="0" y1="188.0" x2="0" y2="332.0" gradientUnits="userSpaceOnUse"><stop offset="0.0000" stop-color="#ffffff"/><stop offset="0.0278" stop-color="#ffffff"/><stop offset="0.0556" stop-color="#fefeff"/><stop offset="0.0833" stop-color="#fefefe"/><stop offset="0.1111" stop-color="#fbfafc"/><stop offset="0.1389" stop-color="#f6f4f9"/><stop offset="0.1667" stop-color="#f1eef6"/><stop offset="0.1944" stop-color="#ebe7f2"/><stop offset="0.2222" stop-color="#e4dfee"/><stop offset="0.2500" stop-color="#ded7e9"/><stop offset="0.2778" stop-color="#d3cae3"/><stop offset="0.3056" stop-color="#c7bbda"/><stop offset="0.3333" stop-color="#b8a9d1"/><stop offset="0.3611" stop-color="#a896c7"/><stop offset="0.3889" stop-color="#9781bb"/><stop offset="0.4167" stop-color="#866db0"/><stop offset="0.4444" stop-color="#7a5ea9"/><stop offset="0.4722" stop-color="#785ca7"/><stop offset="0.5000" stop-color="#775aa6"/><stop offset="0.5278" stop-color="#785ca7"/><stop offset="0.5556" stop-color="#7a5ea9"/><stop offset="0.5833" stop-color="#866db0"/><stop offset="0.6111" stop-color="#9781bb"/><stop offset="0.6389" stop-color="#a896c7"/><stop offset="0.6667" stop-color="#b8a9d1"/><stop offset="0.6944" stop-color="#c7bbda"/><stop offset="0.7222" stop-color="#d3cae3"/><stop offset="0.7500" stop-color="#ded7e9"/><stop offset="0.7778" stop-color="#e4dfee"/><stop offset="0.8056" stop-color="#ebe7f2"/><stop offset="0.8333" stop-color="#f1eef6"/><stop offset="0.8611" stop-color="#f6f4f9"/><stop offset="0.8889" stop-color="#fbfafc"/><stop offset="0.9167" stop-color="#fefefe"/><stop offset="0.9444" stop-color="#fefeff"/><stop offset="0.9722" stop-color="#ffffff"/><stop offset="1.0000" stop-color="#ffffff"/></linearGradient>
<linearGradient id="bs21" x1="0" y1="188.0" x2="0" y2="332.0" gradientUnits="userSpaceOnUse"><stop offset="0.0000" stop-color="#ffffff"/><stop offset="0.0278" stop-color="#ffffff"/><stop offset="0.0556" stop-color="#fefeff"/><stop offset="0.0833" stop-color="#fefefe"/><stop offset="0.1111" stop-color="#fbfafc"/><stop offset="0.1389" stop-color="#f6f4f9"/><stop offset="0.1667" stop-color="#f1eff6"/><stop offset="0.1944" stop-color="#ebe7f2"/><stop offset="0.2222" stop-color="#e5dfee"/><stop offset="0.2500" stop-color="#ded6e9"/><stop offset="0.2778" stop-color="#d3cae3"/><stop offset="0.3056" stop-color="#c7bbdb"/><stop offset="0.3333" stop-color="#b9aad1"/><stop offset="0.3611" stop-color="#aa97c8"/><stop offset="0.3889" stop-color="#9a84bd"/><stop offset="0.4167" stop-color="#8a70b3"/><stop offset="0.4444" stop-color="#7f63ac"/><stop offset="0.4722" stop-color="#7d60aa"/><stop offset="0.5000" stop-color="#7b5fa9"/><stop offset="0.5278" stop-color="#7d60aa"/><stop offset="0.5556" stop-color="#7f63ac"/><stop offset="0.5833" stop-color="#8a70b3"/><stop offset="0.6111" stop-color="#9a84bd"/><stop offset="0.6389" stop-color="#aa97c8"/><stop offset="0.6667" stop-color="#b9aad1"/><stop offset="0.6944" stop-color="#c7bbdb"/><stop offset="0.7222" stop-color="#d3cae3"/><stop offset="0.7500" stop-color="#ded6e9"/><stop offset="0.7778" stop-color="#e5dfee"/><stop offset="0.8056" stop-color="#ebe7f2"/><stop offset="0.8333" stop-color="#f1eff6"/><stop offset="0.8611" stop-color="#f6f4f9"/><stop offset="0.8889" stop-color="#fbfafc"/><stop offset="0.9167" stop-color="#fefefe"/><stop offset="0.9444" stop-color="#fefeff"/><stop offset="0.9722" stop-color="#ffffff"/><stop offset="1.0000" stop-color="#ffffff"/></linearGradient>
<linearGradient id="bs22" x1="0" y1="188.0" x2="0" y2="332.0" gradientUnits="userSpaceOnUse"><stop offset="0.0000" stop-color="#ffffff"/><stop offset="0.0278" stop-color="#ffffff"/><stop offset="0.0556" stop-color="#fefeff"/><stop offset="0.0833" stop-color="#fefdfe"/><stop offset="0.1111" stop-color="#fbfafc"/><stop offset="0.1389" stop-color="#f6f5f9"/><stop offset="0.1667" stop-color="#f2eff6"/><stop offset="0.1944" stop-color="#ebe7f2"/><stop offset="0.2222" stop-color="#e5dfee"/><stop offset="0.2500" stop-color="#ded6e9"/><stop offset="0.2778" stop-color="#d3cae3"/><stop offset="0.3056" stop-color="#c8bbdb"/><stop offset="0.3333" stop-color="#baabd2"/><stop offset="0.3611" stop-color="#ac99c9"/><stop offset="0.3889" stop-color="#9c86bf"/><stop offset="0.4167" stop-color="#8e74b5"/><stop offset="0.4444" stop-color="#8367ae"/><stop offset="0.4722" stop-color="#8165ad"/><stop offset="0.5000" stop-color="#8064ac"/><stop offset="0.5278" stop-color="#8165ad"/><stop offset="0.5556" stop-color="#8367ae"/><stop offset="0.5833" stop-color="#8e74b5"/><stop offset="0.6111" stop-color="#9c86bf"/><stop offset="0.6389" stop-color="#ac99c9"/><stop offset="0.6667" stop-color="#baabd2"/><stop offset="0.6944" stop-color="#c8bbdb"/><stop offset="0.7222" stop-color="#d3cae3"/><stop offset="0.7500" stop-color="#ded6e9"/><stop offset="0.7778" stop-color="#e5dfee"/><stop offset="0.8056" stop-color="#ebe7f2"/><stop offset="0.8333" stop-color="#f2eff6"/><stop offset="0.8611" stop-color="#f6f5f9"/><stop offset="0.8889" stop-color="#fbfafc"/><stop offset="0.9167" stop-color="#fefdfe"/><stop offset="0.9444" stop-color="#fefeff"/><stop offset="0.9722" stop-color="#ffffff"/><stop offset="1.0000" stop-color="#ffffff"/></linearGradient>
<linearGradient id="bs23" x1="0" y1="188.0" x2="0" y2="332.0" gradientUnits="userSpaceOnUse"><stop offset="0.0000" stop-color="#ffffff"/><stop offset="0.0278" stop-color="#ffffff"/><stop offset="0.0556" stop-color="#fefefe"/><stop offset="0.0833" stop-color="#fefdfe"/><stop offset="0.1111" stop-color="#fbfafc"/><stop offset="0.1389" stop-color="#f7f5fa"/><stop offset="0.1667" stop-color="#f2eff7"/><stop offset="0.1944" stop-color="#ece7f2"/><stop offset="0.2222" stop-color="#e5dfee"/><stop offset="0.2500" stop-color="#ded6e9"/><stop offset="0.2778" stop-color="#d4cae3"/><stop offset="0.3056" stop-color="#c8bcdb"/><stop offset="0.3333" stop-color="#bbacd3"/><stop offset="0.3611" stop-color="#ad9bca"/><stop offset="0.3889" stop-color="#9f89c1"/><stop offset="0.4167" stop-color="#9178b8"/><stop offset="0.4444" stop-color="#876cb1"/><stop offset="0.4722" stop-color="#866ab0"/><stop offset="0.5000" stop-color="#8468af"/><stop offset="0.5278" stop-color="#866ab0"/><stop offset="0.5556" stop-color="#876cb1"/><stop offset="0.5833" stop-color="#9178b8"/><stop offset="0.6111" stop-color="#9f89c1"/><stop offset="0.6389" stop-color="#ad9bca"/><stop offset="0.6667" stop-color="#bbacd3"/><stop offset="0.6944" stop-color="#c8bcdb"/><stop offset="0.7222" stop-color="#d4cae3"/><stop offset="0.7500" stop-color="#ded6e9"/><stop offset="0.7778" stop-color="#e5dfee"/><stop offset="0.8056" stop-color="#ece7f2"/><stop offset="0.8333" stop-color="#f2eff7"/><stop offset="0.8611" stop-color="#f7f5fa"/><stop offset="0.8889" stop-color="#fbfafc"/><stop offset="0.9167" stop-color="#fefdfe"/><stop offset="0.9444" stop-color="#fefefe"/><stop offset="0.9722" stop-color="#ffffff"/><stop offset="1.0000" stop-color="#ffffff"/></linearGradient>
<linearGradient id="bs24" x1="0" y1="188.0" x2="0" y2="332.0" gradientUnits="userSpaceOnUse"><stop offset="0.0000" stop-color="#ffffff"/><stop offset="0.0278" stop-color="#ffffff"/><stop offset="0.0556" stop-color="#fefefe"/><stop offset="0.0833" stop-color="#fefdfe"/><stop offset="0.1111" stop-color="#fbfafc"/><stop offset="0.1389" stop-color="#f7f5fa"/><stop offset="0.1667" stop-color="#f2eff7"/><stop offset="0.1944" stop-color="#ece7f3"/><stop offset="0.2222" stop-color="#e5dfee"/><stop offset="0.2500" stop-color="#ded6e9"/><stop offset="0.2778" stop-color="#d4cae3"/><stop offset="0.3056" stop-color="#c9bcdc"/><stop offset="0.3333" stop-color="#bcacd4"/><stop offset="0.3611" stop-color="#af9ccb"/><stop offset="0.3889" stop-color="#a18cc2"/><stop offset="0.4167" stop-color="#957cba"/><stop offset="0.4444" stop-color="#8b70b4"/><stop offset="0.4722" stop-color="#8a6eb3"/><stop offset="0.5000" stop-color="#896db2"/><stop offset="0.5278" stop-color="#8a6eb3"/><stop offset="0.5556" stop-color="#8b70b4"/><stop offset="0.5833" stop-color="#957cba"/><stop offset="0.6111" stop-color="#a18cc2"/><stop offset="0.6389" stop-color="#af9ccb"/><stop offset="0.6667" stop-color="#bcacd4"/><stop offset="0.6944" stop-color="#c9bcdc"/><stop offset="0.7222" stop-color="#d4cae3"/><stop offset="0.7500" stop-color="#ded6e9"/><stop offset="0.7778" stop-color="#e5dfee"/><stop offset="0.8056" stop-color="#ece7f3"/><stop offset="0.8333" stop-color="#f2eff7"/><stop offset="0.8611" stop-color="#f7f5fa"/><stop offset="0.8889" stop-color="#fbfafc"/><stop offset="0.9167" stop-color="#fefdfe"/><stop offset="0.9444" stop-color="#fefefe"/><stop offset="0.9722" stop-color="#ffffff"/><stop offset="1.0000" stop-color="#ffffff"/></linearGradient>
<linearGradient id="bs25" x1="0" y1="188.0" x2="0" y2="332.0" gradientUnits="userSpaceOnUse"><stop offset="0.0000" stop-color="#ffffff"/><stop offset="0.0278" stop-color="#ffffff"/><stop offset="0.0556" stop-color="#fefefe"/><stop offset="0.0833" stop-color="#fdfdfe"/><stop offset="0.1111" stop-color="#fbfafc"/><stop offset="0.1389" stop-color="#f7f5fa"/><stop offset="0.1667" stop-color="#f3f0f7"/><stop offset="0.1944" stop-color="#ece7f3"/><stop offset="0.2222" stop-color="#e5dfee"/><stop offset="0.2500" stop-color="#ded6e9"/><stop offset="0.2778" stop-color="#d4cae3"/><stop offset="0.3056" stop-color="#c9bcdc"/><stop offset="0.3333" stop-color="#bdadd4"/><stop offset="0.3611" stop-color="#b09dcc"/><stop offset="0.3889" stop-color="#a48ec4"/><stop offset="0.4167" stop-color="#987fbc"/><stop offset="0.4444" stop-color="#8f74b6"/><stop offset="0.4722" stop-color="#8d72b5"/><stop offset="0.5000" stop-color="#8c71b4"/><stop offset="0.5278" stop-color="#8d72b5"/><stop offset="0.5556" stop-color="#8f74b6"/><stop offset="0.5833" stop-color="#987fbc"/><stop offset="0.6111" stop-color="#a48ec4"/><stop offset="0.6389" stop-color="#b09dcc"/><stop offset="0.6667" stop-color="#bdadd4"/><stop offset="0.6944" stop-color="#c9bcdc"/><stop offset="0.7222" stop-color="#d4cae3"/><stop offset="0.7500" stop-color="#ded6e9"/><stop offset="0.7778" stop-color="#e5dfee"/><stop offset="0.8056" stop-color="#ece7f3"/><stop offset="0.8333" stop-color="#f3f0f7"/><stop offset="0.8611" stop-color="#f7f5fa"/><stop offset="0.8889" stop-color="#fbfafc"/><stop offset="0.9167" stop-color="#fdfdfe"/><stop offset="0.9444" stop-color="#fefefe"/><stop offset="0.9722" stop-color="#ffffff"/><stop offset="1.0000" stop-color="#ffffff"/></linearGradient>
<linearGradient id="bs26" x1="0" y1="188.0" x2="0" y2="332.0" gradientUnits="userSpaceOnUse"><stop offset="0.0000" stop-color="#ffffff"/><stop offset="0.0278" stop-color="#ffffff"/><stop offset="0.0556" stop-color="#fefefe"/><stop offset="0.0833" stop-color="#fdfdfe"/><stop offset="0.1111" stop-color="#fbfafc"/><stop offset="0.1389" stop-color="#f7f5fa"/><stop offset="0.1667" stop-color="#f3f0f7"/><stop offset="0.1944" stop-color="#ece8f3"/><stop offset="0.2222" stop-color="#e5dfee"/><stop offset="0.2500" stop-color="#ded6e9"/><stop offset="0.2778" stop-color="#d4cae3"/><stop offset="0.3056" stop-color="#c9bcdc"/><stop offset="0.3333" stop-color="#beaed5"/><stop offset="0.3611" stop-color="#b19ecd"/><stop offset="0.3889" stop-color="#a690c5"/><stop offset="0.4167" stop-color="#9b82be"/><stop offset="0.4444" stop-color="#9278b8"/><stop offset="0.4722" stop-color="#9176b7"/><stop offset="0.5000" stop-color="#9075b7"/><stop offset="0.5278" stop-color="#9176b7"/><stop offset="0.5556" stop-color="#9278b8"/><stop offset="0.5833" stop-color="#9b82be"/><stop offset="0.6111" stop-color="#a690c5"/><stop offset="0.6389" stop-color="#b19ecd"/><stop offset="0.6667" stop-color="#beaed5"/><stop offset="0.6944" stop-color="#c9bcdc"/><stop offset="0.7222" stop-color="#d4cae3"/><stop offset="0.7500" stop-color="#ded6e9"/><stop offset="0.7778" stop-color="#e5dfee"/><stop offset="0.8056" stop-color="#ece8f3"/><stop offset="0.8333" stop-color="#f3f0f7"/><stop offset="0.8611" stop-color="#f7f5fa"/><stop offset="0.8889" stop-color="#fbfafc"/><stop offset="0.9167" stop-color="#fdfdfe"/><stop offset="0.9444" stop-color="#fefefe"/><stop offset="0.9722" stop-color="#ffffff"/><stop offset="1.0000" stop-color="#ffffff"/></linearGradient>
<linearGradient id="bs27" x1="0" y1="188.0" x2="0" y2="332.0" gradientUnits="userSpaceOnUse"><stop offset="0.0000" stop-color="#ffffff"/><stop offset="0.0278" stop-color="#ffffff"/><stop offset="0.0556" stop-color="#fefefe"/><stop offset="0.0833" stop-color="#fdfdfe"/><stop offset="0.1111" stop-color="#fbfafc"/><stop offset="0.1389" stop-color="#f7f5fa"/><stop offset="0.1667" stop-color="#f3f0f7"/><stop offset="0.1944" stop-color="#ece8f3"/><stop offset="0.2222" stop-color="#e5dfee"/><stop offset="0.2500" stop-color="#ded6ea"/><stop offset="0.2778" stop-color="#d5cae3"/><stop offset="0.3056" stop-color="#cabddd"/><stop offset="0.3333" stop-color="#bfafd5"/><stop offset="0.3611" stop-color="#b3a0ce"/><stop offset="0.3889" stop-color="#a892c6"/><stop offset="0.4167" stop-color="#9e85c0"/><stop offset="0.4444" stop-color="#967bbb"/><stop offset="0.4722" stop-color="#9479ba"/><stop offset="0.5000" stop-color="#9478b9"/><stop offset="0.5278" stop-color="#9479ba"/><stop offset="0.5556" stop-color="#967bbb"/><stop offset="0.5833" stop-color="#9e85c0"/><stop offset="0.6111" stop-color="#a892c6"/><stop offset="0.6389" stop-color="#b3a0ce"/><stop offset="0.6667" stop-color="#bfafd5"/><stop offset="0.6944" stop-color="#cabddd"/><stop offset="0.7222" stop-color="#d5cae3"/><stop offset="0.7500" stop-color="#ded6ea"/><stop offset="0.7778" stop-color="#e5dfee"/><stop offset="0.8056" stop-color="#ece8f3"/><stop offset="0.8333" stop-color="#f3f0f7"/><stop offset="0.8611" stop-color="#f7f5fa"/><stop offset="0.8889" stop-color="#fbfafc"/><stop offset="0.9167" stop-color="#fdfdfe"/><stop offset="0.9444" stop-color="#fefefe"/><stop offset="0.9722" stop-color="#ffffff"/><stop offset="1.0000" stop-color="#ffffff"/></linearGradient>
<linearGradient id="bs28" x1="0" y1="188.0" x2="0" y2="332.0" gradientUnits="userSpaceOnUse"><stop offset="0.0000" stop-color="#ffffff"/><stop offset="0.0278" stop-color="#ffffff"/><stop offset="0.0556" stop-color="#fefefe"/><stop offset="0.0833" stop-color="#fdfdfe"/><stop offset="0.1111" stop-color="#fbfafc"/><stop offset="0.1389" stop-color="#f8f6fa"/><stop offset="0.1667" stop-color="#f3f1f7"/><stop offset="0.1944" stop-color="#ede8f3"/><stop offset="0.2222" stop-color="#e6dfee"/><stop offset="0.2500" stop-color="#ded6ea"/><stop offset="0.2778" stop-color="#d5cae4"/><stop offset="0.3056" stop-color="#cbbddd"/><stop offset="0.3333" stop-color="#c0b0d6"/><stop offset="0.3611" stop-color="#b4a1cf"/><stop offset="0.3889" stop-color="#aa94c8"/><stop offset="0.4167" stop-color="#a188c2"/><stop offset="0.4444" stop-color="#997fbd"/><stop offset="0.4722" stop-color="#987dbc"/><stop offset="0.5000" stop-color="#977dbb"/><stop offset="0.5278" stop-color="#987dbc"/><stop offset="0.5556" stop-color="#997fbd"/><stop offset="0.5833" stop-color="#a188c2"/><stop offset="0.6111" stop-color="#aa94c8"/><stop offset="0.6389" stop-color="#b4a1cf"/><stop offset="0.6667" stop-color="#c0b0d6"/><stop offset="0.6944" stop-color="#cbbddd"/><stop offset="0.7222" stop-color="#d5cae4"/><stop offset="0.7500" stop-color="#ded6ea"/><stop offset="0.7778" stop-color="#e6dfee"/><stop offset="0.8056" stop-color="#ede8f3"/><stop offset="0.8333" stop-color="#f3f1f7"/><stop offset="0.8611" stop-color="#f8f6fa"/><stop offset="0.8889" stop-color="#fbfafc"/><stop offset="0.9167" stop-color="#fdfdfe"/><stop offset="0.9444" stop-color="#fefefe"/><stop offset="0.9722" stop-color="#ffffff"/><stop offset="1.0000" stop-color="#ffffff"/></linearGradient>
<linearGradient id="bs29" x1="0" y1="188.0" x2="0" y2="332.0" gradientUnits="userSpaceOnUse"><stop offset="0.0000" stop-color="#ffffff"/><stop offset="0.0278" stop-color="#ffffff"/><stop offset="0.0556" stop-color="#fefefe"/><stop offset="0.0833" stop-color="#fdfdfe"/><stop offset="0.1111" stop-color="#fbfafc"/><stop offset="0.1389" stop-color="#f8f6fa"/><stop offset="0.1667" stop-color="#f4f1f8"/><stop offset="0.1944" stop-color="#ede8f3"/><stop offset="0.2222" stop-color="#e6dfef"/><stop offset="0.2500" stop-color="#ded6ea"/><stop offset="0.2778" stop-color="#d5cbe4"/><stop offset="0.3056" stop-color="#cbbedd"/><stop offset="0.3333" stop-color="#c1b1d7"/><stop offset="0.3611" stop-color="#b6a3d0"/><stop offset="0.3889" stop-color="#ac97c9"/><stop offset="0.4167" stop-color="#a48cc4"/><stop offset="0.4444" stop-color="#9d84bf"/><stop offset="0.4722" stop-color="#9b82be"/><stop offset="0.5000" stop-color="#9b81be"/><stop offset="0.5278" stop-color="#9b82be"/><stop offset="0.5556" stop-color="#9d84bf"/><stop offset="0.5833" stop-color="#a48cc4"/><stop offset="0.6111" stop-color="#ac97c9"/><stop offset="0.6389" stop-color="#b6a3d0"/><stop offset="0.6667" stop-color="#c1b1d7"/><stop offset="0.6944" stop-color="#cbbedd"/><stop offset="0.7222" stop-color="#d5cbe4"/><stop offset="0.7500" stop-color="#ded6ea"/><stop offset="0.7778" stop-color="#e6dfef"/><stop offset="0.8056" stop-color="#ede8f3"/><stop offset="0.8333" stop-color="#f4f1f8"/><stop offset="0.8611" stop-color="#f8f6fa"/><stop offset="0.8889" stop-color="#fbfafc"/><stop offset="0.9167" stop-color="#fdfdfe"/><stop offset="0.9444" stop-color="#fefefe"/><stop offset="0.9722" stop-color="#ffffff"/><stop offset="1.0000" stop-color="#ffffff"/></linearGradient>
<linearGradient id="bs30" x1="0" y1="188.0" x2="0" y2="332.0" gradientUnits="userSpaceOnUse"><stop offset="0.0000" stop-color="#ffffff"/><stop offset="0.0278" stop-color="#ffffff"/><stop offset="0.0556" stop-color="#fefefe"/><stop offset="0.0833" stop-color="#fdfdfe"/><stop offset="0.1111" stop-color="#fbfafc"/><stop offset="0.1389" stop-color="#f8f6fa"/><stop offset="0.1667" stop-color="#f4f1f8"/><stop offset="0.1944" stop-color="#ede9f3"/><stop offset="0.2222" stop-color="#e6e0ef"/><stop offset="0.2500" stop-color="#dfd7ea"/><stop offset="0.2778" stop-color="#d6cbe4"/><stop offset="0.3056" stop-color="#ccbfde"/><stop offset="0.3333" stop-color="#c2b2d7"/><stop offset="0.3611" stop-color="#b8a5d1"/><stop offset="0.3889" stop-color="#af9acb"/><stop offset="0.4167" stop-color="#a790c6"/><stop offset="0.4444" stop-color="#a088c1"/><stop offset="0.4722" stop-color="#9f86c1"/><stop offset="0.5000" stop-color="#9e86c0"/><stop offset="0.5278" stop-color="#9f86c1"/><stop offset="0.5556" stop-color="#a088c1"/><stop offset="0.5833" stop-color="#a790c6"/><stop offset="0.6111" stop-color="#af9acb"/><stop offset="0.6389" stop-color="#b8a5d1"/><stop offset="0.6667" stop-color="#c2b2d7"/><stop offset="0.6944" stop-color="#ccbfde"/><stop offset="0.7222" stop-color="#d6cbe4"/><stop offset="0.7500" stop-color="#dfd7ea"/><stop offset="0.7778" stop-color="#e6e0ef"/><stop offset="0.8056" stop-color="#ede9f3"/><stop offset="0.8333" stop-color="#f4f1f8"/><stop offset="0.8611" stop-color="#f8f6fa"/><stop offset="0.8889" stop-color="#fbfafc"/><stop offset="0.9167" stop-color="#fdfdfe"/><stop offset="0.9444" stop-color="#fefefe"/><stop offset="0.9722" stop-color="#ffffff"/><stop offset="1.0000" stop-color="#ffffff"/></linearGradient>
<linearGradient id="bs31" x1="0" y1="188.0" x2="0" y2="332.0" gradientUnits="userSpaceOnUse"><stop offset="0.0000" stop-color="#ffffff"/><stop offset="0.0278" stop-color="#ffffff"/><stop offset="0.0556" stop-color="#fefefe"/><stop offset="0.0833" stop-color="#fdfdfe"/><stop offset="0.1111" stop-color="#fbfafc"/><stop offset="0.1389" stop-color="#f8f6fa"/><stop offset="0.1667" stop-color="#f4f1f8"/><stop offset="0.1944" stop-color="#ede9f3"/><stop offset="0.2222" stop-color="#e6e0ef"/><stop offset="0.2500" stop-color="#dfd7ea"/><stop offset="0.2778" stop-color="#d6cbe4"/><stop offset="0.3056" stop-color="#ccc0de"/><stop offset="0.3333" stop-color="#c3b3d8"/><stop offset="0.3611" stop-color="#b9a7d1"/><stop offset="0.3889" stop-color="#b09ccc"/><stop offset="0.4167" stop-color="#a993c7"/><stop offset="0.4444" stop-color="#a38bc3"/><stop offset="0.4722" stop-color="#a18ac2"/><stop offset="0.5000" stop-color="#a189c2"/><stop offset="0.5278" stop-color="#a18ac2"/><stop offset="0.5556" stop-color="#a38bc3"/><stop offset="0.5833" stop-color="#a993c7"/><stop offset="0.6111" stop-color="#b09ccc"/><stop offset="0.6389" stop-color="#b9a7d1"/><stop offset="0.6667" stop-color="#c3b3d8"/><stop offset="0.6944" stop-color="#ccc0de"/><stop offset="0.7222" stop-color="#d6cbe4"/><stop offset="0.7500" stop-color="#dfd7ea"/><stop offset="0.7778" stop-color="#e6e0ef"/><stop offset="0.8056" stop-color="#ede9f3"/><stop offset="0.8333" stop-color="#f4f1f8"/><stop offset="0.8611" stop-color="#f8f6fa"/><stop offset="0.8889" stop-color="#fbfafc"/><stop offset="0.9167" stop-color="#fdfdfe"/><stop offset="0.9444" stop-color="#fefefe"/><stop offset="0.9722" stop-color="#ffffff"/><stop offset="1.0000" stop-color="#ffffff"/></linearGradient>
<linearGradient id="bs32" x1="0" y1="188.0" x2="0" y2="332.0" gradientUnits="userSpaceOnUse"><stop offset="0.0000" stop-color="#ffffff"/><stop offset="0.0278" stop-color="#fffeff"/><stop offset="0.0556" stop-color="#fefdfe"/><stop offset="0.0833" stop-color="#fdfcfe"/><stop offset="0.1111" stop-color="#fbfafc"/><stop offset="0.1389" stop-color="#f8f6fa"/><stop offset="0.1667" stop-color="#f4f2f8"/><stop offset="0.1944" stop-color="#ede9f3"/><stop offset="0.2222" stop-color="#e6e0ef"/><stop offset="0.2500" stop-color="#dfd6ea"/><stop offset="0.2778" stop-color="#d6cbe4"/><stop offset="0.3056" stop-color="#ccbfde"/><stop offset="0.3333" stop-color="#c3b3d8"/><stop offset="0.3611" stop-color="#b9a7d1"/><stop offset="0.3889" stop-color="#b19dcc"/><stop offset="0.4167" stop-color="#aa94c8"/><stop offset="0.4444" stop-color="#a48dc4"/><stop offset="0.4722" stop-color="#a38cc3"/><stop offset="0.5000" stop-color="#a38bc3"/><stop offset="0.5278" stop-color="#a38cc3"/><stop offset="0.5556" stop-color="#a48dc4"/><stop offset="0.5833" stop-color="#aa94c8"/><stop offset="0.6111" stop-color="#b19dcc"/><stop offset="0.6389" stop-color="#b9a7d1"/><stop offset="0.6667" stop-color="#c3b3d8"/><stop offset="0.6944" stop-color="#ccbfde"/><stop offset="0.7222" stop-color="#d6cbe4"/><stop offset="0.7500" stop-color="#dfd6ea"/><stop offset="0.7778" stop-color="#e6e0ef"/><stop offset="0.8056" stop-color="#ede9f3"/><stop offset="0.8333" stop-color="#f4f2f8"/><stop offset="0.8611" stop-color="#f8f6fa"/><stop offset="0.8889" stop-color="#fbfafc"/><stop offset="0.9167" stop-color="#fdfcfe"/><stop offset="0.9444" stop-color="#fefdfe"/><stop offset="0.9722" stop-color="#fffeff"/><stop offset="1.0000" stop-color="#ffffff"/></linearGradient>
<linearGradient id="bs33" x1="0" y1="188.0" x2="0" y2="332.0" gradientUnits="userSpaceOnUse"><stop offset="0.0000" stop-color="#ffffff"/><stop offset="0.0278" stop-color="#fffeff"/><stop offset="0.0556" stop-color="#fefdfe"/><stop offset="0.0833" stop-color="#fdfcfe"/><stop offset="0.1111" stop-color="#fbfafc"/><stop offset="0.1389" stop-color="#f8f6fb"/><stop offset="0.1667" stop-color="#f4f2f8"/><stop offset="0.1944" stop-color="#ede9f3"/><stop offset="0.2222" stop-color="#e6e0ef"/><stop offset="0.2500" stop-color="#ded6ea"/><stop offset="0.2778" stop-color="#d6cbe4"/><stop offset="0.3056" stop-color="#ccbfde"/><stop offset="0.3333" stop-color="#c3b4d8"/><stop offset="0.3611" stop-color="#b9a8d2"/><stop offset="0.3889" stop-color="#b29ecd"/><stop offset="0.4167" stop-color="#ac96c9"/><stop offset="0.4444" stop-color="#a68fc5"/><stop offset="0.4722" stop-color="#a58ec4"/><stop offset="0.5000" stop-color="#a58dc4"/><stop offset="0.5278" stop-color="#a58ec4"/><stop offset="0.5556" stop-color="#a68fc5"/><stop offset="0.5833" stop-color="#ac96c9"/><stop offset="0.6111" stop-color="#b29ecd"/><stop offset="0.6389" stop-color="#b9a8d2"/><stop offset="0.6667" stop-color="#c3b4d8"/><stop offset="0.6944" stop-color="#ccbfde"/><stop offset="0.7222" stop-color="#d6cbe4"/><stop offset="0.7500" stop-color="#ded6ea"/><stop offset="0.7778" stop-color="#e6e0ef"/><stop offset="0.8056" stop-color="#ede9f3"/><stop offset="0.8333" stop-color="#f4f2f8"/><stop offset="0.8611" stop-color="#f8f6fb"/><stop offset="0.8889" stop-color="#fbfafc"/><stop offset="0.9167" stop-color="#fdfcfe"/><stop offset="0.9444" stop-color="#fefdfe"/><stop offset="0.9722" stop-color="#fffeff"/><stop offset="1.0000" stop-color="#ffffff"/></linearGradient>
<clipPath id="beamclip"><path d="M322.5 150 Q227.3 256.2 322.5 362 L1239.5 362 Q1334.7 256.2 1239.5 150 Z"/></clipPath>
<clipPath id="cb1"><rect x="77.5" y="565" width="400" height="332"/></clipPath>
<clipPath id="cb2"><rect x="575" y="565" width="401" height="332"/></clipPath>
<clipPath id="cb3"><rect x="1073" y="565" width="403" height="332"/></clipPath>
</defs>
<rect x="0" y="0" width="1510" height="1005" fill="#fff"/>
<rect x="10" y="0" width="1500" height="1004.5" fill="url(#bg)"/>

<!-- laser beam -->
<g clip-path="url(#beamclip)">
<rect x="768.7" y="188.0" width="16.6" height="144.0" fill="url(#bs0)"/>
<rect x="784.7" y="188.0" width="16.6" height="144.0" fill="url(#bs0)"/>
<rect x="752.7" y="188.0" width="16.6" height="144.0" fill="url(#bs1)"/>
<rect x="800.7" y="188.0" width="16.6" height="144.0" fill="url(#bs1)"/>
<rect x="736.7" y="188.0" width="16.6" height="144.0" fill="url(#bs2)"/>
<rect x="816.7" y="188.0" width="16.6" height="144.0" fill="url(#bs2)"/>
<rect x="720.7" y="188.0" width="16.6" height="144.0" fill="url(#bs3)"/>
<rect x="832.7" y="188.0" width="16.6" height="144.0" fill="url(#bs3)"/>
<rect x="704.7" y="188.0" width="16.6" height="144.0" fill="url(#bs4)"/>
<rect x="848.7" y="188.0" width="16.6" height="144.0" fill="url(#bs4)"/>
<rect x="688.7" y="188.0" width="16.6" height="144.0" fill="url(#bs5)"/>
<rect x="864.7" y="188.0" width="16.6" height="144.0" fill="url(#bs5)"/>
<rect x="672.7" y="188.0" width="16.6" height="144.0" fill="url(#bs6)"/>
<rect x="880.7" y="188.0" width="16.6" height="144.0" fill="url(#bs6)"/>
<rect x="656.7" y="188.0" width="16.6" height="144.0" fill="url(#bs7)"/>
<rect x="896.7" y="188.0" width="16.6" height="144.0" fill="url(#bs7)"/>
<rect x="640.7" y="188.0" width="16.6" height="144.0" fill="url(#bs8)"/>
<rect x="912.7" y="188.0" width="16.6" height="144.0" fill="url(#bs8)"/>
<rect x="624.7" y="188.0" width="16.6" height="144.0" fill="url(#bs9)"/>
<rect x="928.7" y="188.0" width="16.6" height="144.0" fill="url(#bs9)"/>
<rect x="608.7" y="188.0" width="16.6" height="144.0" fill="url(#bs10)"/>
<rect x="944.7" y="188.0" width="16.6" height="144.0" fill="url(#bs10)"/>
<rect x="592.7" y="188.0" width="16.6" height="144.0" fill="url(#bs11)"/>
<rect x="960.7" y="188.0" width="16.6" height="144.0" fill="url(#bs11)"/>
<rect x="576.7" y="188.0" width="16.6" height="144.0" fill="url(#bs12)"/>
<rect x="976.7" y="188.0" width="16.6" height="144.0" fill="url(#bs12)"/>
<rect x="560.7" y="188.0" width="16.6" height="144.0" fill="url(#bs13)"/>
<rect x="992.7" y="188.0" width="16.6" height="144.0" fill="url(#bs13)"/>
<rect x="544.7" y="188.0" width="16.6" height="144.0" fill="url(#bs14)"/>
<rect x="1008.7" y="188.0" width="16.6" height="144.0" fill="url(#bs14)"/>
<rect x="528.7" y="188.0" width="16.6" height="144.0" fill="url(#bs15)"/>
<rect x="1024.7" y="188.0" width="16.6" height="144.0" fill="url(#bs15)"/>
<rect x="512.7" y="188.0" width="16.6" height="144.0" fill="url(#bs16)"/>
<rect x="1040.7" y="188.0" width="16.6" height="144.0" fill="url(#bs16)"/>
<rect x="496.7" y="188.0" width="16.6" height="144.0" fill="url(#bs17)"/>
<rect x="1056.7" y="188.0" width="16.6" height="144.0" fill="url(#bs17)"/>
<rect x="480.7" y="188.0" width="16.6" height="144.0" fill="url(#bs18)"/>
<rect x="1072.7" y="188.0" width="16.6" height="144.0" fill="url(#bs18)"/>
<rect x="464.7" y="188.0" width="16.6" height="144.0" fill="url(#bs19)"/>
<rect x="1088.7" y="188.0" width="16.6" height="144.0" fill="url(#bs19)"/>
<rect x="448.7" y="188.0" width="16.6" height="144.0" fill="url(#bs20)"/>
<rect x="1104.7" y="188.0" width="16.6" height="144.0" fill="url(#bs20)"/>
<rect x="432.7" y="188.0" width="16.6" height="144.0" fill="url(#bs21)"/>
<rect x="1120.7" y="188.0" width="16.6" height="144.0" fill="url(#bs21)"/>
<rect x="416.7" y="188.0" width="16.6" height="144.0" fill="url(#bs22)"/>
<rect x="1136.7" y="188.0" width="16.6" height="144.0" fill="url(#bs22)"/>
<rect x="400.7" y="188.0" width="16.6" height="144.0" fill="url(#bs23)"/>
<rect x="1152.7" y="188.0" width="16.6" height="144.0" fill="url(#bs23)"/>
<rect x="384.7" y="188.0" width="16.6" height="144.0" fill="url(#bs24)"/>
<rect x="1168.7" y="188.0" width="16.6" height="144.0" fill="url(#bs24)"/>
<rect x="368.7" y="188.0" width="16.6" height="144.0" fill="url(#bs25)"/>
<rect x="1184.7" y="188.0" width="16.6" height="144.0" fill="url(#bs25)"/>
<rect x="352.7" y="188.0" width="16.6" height="144.0" fill="url(#bs26)"/>
<rect x="1200.7" y="188.0" width="16.6" height="144.0" fill="url(#bs26)"/>
<rect x="336.7" y="188.0" width="16.6" height="144.0" fill="url(#bs27)"/>
<rect x="1216.7" y="188.0" width="16.6" height="144.0" fill="url(#bs27)"/>
<rect x="320.7" y="188.0" width="16.6" height="144.0" fill="url(#bs28)"/>
<rect x="1232.7" y="188.0" width="16.6" height="144.0" fill="url(#bs28)"/>
<rect x="304.7" y="188.0" width="16.6" height="144.0" fill="url(#bs29)"/>
<rect x="1248.7" y="188.0" width="16.6" height="144.0" fill="url(#bs29)"/>
<rect x="288.7" y="188.0" width="16.6" height="144.0" fill="url(#bs30)"/>
<rect x="1264.7" y="188.0" width="16.6" height="144.0" fill="url(#bs30)"/>
<rect x="272.7" y="188.0" width="16.6" height="144.0" fill="url(#bs31)"/>
<rect x="1280.7" y="188.0" width="16.6" height="144.0" fill="url(#bs31)"/>
<rect x="256.7" y="188.0" width="16.6" height="144.0" fill="url(#bs32)"/>
<rect x="1296.7" y="188.0" width="16.6" height="144.0" fill="url(#bs32)"/>
<rect x="240.7" y="188.0" width="16.6" height="144.0" fill="url(#bs33)"/>
<rect x="1312.7" y="188.0" width="16.6" height="144.0" fill="url(#bs33)"/>
</g>

<!-- up arrows behind beam -->
<path d="M660.4 311.5V219" stroke="#9bd2ac" stroke-width="10" stroke-linecap="round" fill="none"/><path d="M643.8 220H677.0L660.4 203Z" fill="#9bd2ac"/><path d="M760.2 311.5V219" stroke="#9bd2ac" stroke-width="10" stroke-linecap="round" fill="none"/><path d="M743.6 220H776.8000000000001L760.2 203Z" fill="#9bd2ac"/><path d="M860.1 311.5V219" stroke="#9bd2ac" stroke-width="10" stroke-linecap="round" fill="none"/><path d="M843.5 220H876.7L860.1 203Z" fill="#9bd2ac"/><path d="M960.0 311.5V219" stroke="#9bd2ac" stroke-width="10" stroke-linecap="round" fill="none"/><path d="M943.4 220H976.6L960.0 203Z" fill="#9bd2ac"/>
<!-- electron beam -->
<path d="M277.7 128.2H443.9L528.2 261.4H1042.8L1126.1 128.1H1284" fill="none" stroke="#e0002a" stroke-width="10.4" stroke-linecap="round" stroke-linejoin="round"/>
<path d="M1267.5 111.2V144.8L1286 128.1Z" fill="#e0002a"/>
<path d="M610.4 211.5V304" stroke="#9bd2ac" stroke-width="10" stroke-linecap="round" fill="none"/><path d="M593.8 303H627.0L610.4 320Z" fill="#9bd2ac"/><path d="M710.3 211.5V304" stroke="#9bd2ac" stroke-width="10" stroke-linecap="round" fill="none"/><path d="M693.6999999999999 303H726.9L710.3 320Z" fill="#9bd2ac"/><path d="M810.2 211.5V304" stroke="#9bd2ac" stroke-width="10" stroke-linecap="round" fill="none"/><path d="M793.6 303H826.8000000000001L810.2 320Z" fill="#9bd2ac"/><path d="M910.2 211.5V304" stroke="#9bd2ac" stroke-width="10" stroke-linecap="round" fill="none"/><path d="M893.6 303H926.8000000000001L910.2 320Z" fill="#9bd2ac"/>

<!-- cones -->
<path d="M600.7 262 L267.4 565 L478.5 565 L478.5 710 Z" fill="url(#cone1)"/>
<path d="M784.5 261.5 L647.6 565 L906.2 565 Z" fill="url(#cone2)"/>
<path d="M968.7 262 L1300.7 565 L1077 565 L1077 668 Z" fill="url(#cone3)"/>

<!-- mirrors -->
<path id="mL" d="M299.6 161.6 H319.6 Q229 256.2 319.6 350.8 H300.6 Q187.4 256.2 299.6 161.6Z" fill="url(#mir)" stroke="#1ba3e8" stroke-width="3" stroke-linejoin="miter"/>
<path d="M299.6 161.6 H319.6 Q229 256.2 319.6 350.8 H300.6 Q187.4 256.2 299.6 161.6Z" fill="url(#mir)" stroke="#1ba3e8" stroke-width="3" stroke-linejoin="miter" transform="translate(1562 0) scale(-1 1)"/>

<!-- boxes -->
<g fill="#ddeefc" stroke="#3a0f80" stroke-width="2.2">
<rect x="78.1" y="565.1" width="399.1" height="332.7"/>
<rect x="577.2" y="565.1" width="399.3" height="332.7"/>
<rect x="1076.7" y="565.1" width="399.5" height="332.7"/>
</g>
<rect x="72.4" y="590" width="5.0" height="283" fill="#fff"/>
<g fill="#e00026" clip-path="url(#cb1)"><circle cx="78" cy="669.8" r="4.4"/><circle cx="98" cy="669.8" r="4.4"/><circle cx="118" cy="669.8" r="4.4"/><circle cx="138" cy="669.8" r="4.4"/><circle cx="158" cy="669.8" r="4.4"/><circle cx="178" cy="669.8" r="4.4"/><circle cx="198" cy="669.8" r="4.4"/><circle cx="218" cy="669.8" r="4.4"/><circle cx="238" cy="669.8" r="4.4"/><circle cx="258" cy="669.8" r="4.4"/><circle cx="278" cy="669.8" r="4.4"/><circle cx="298" cy="669.8" r="4.4"/><circle cx="318" cy="669.8" r="4.4"/><circle cx="338" cy="669.8" r="4.4"/><circle cx="358" cy="669.8" r="4.4"/><circle cx="378" cy="669.8" r="4.4"/><circle cx="398" cy="669.8" r="4.4"/><circle cx="418" cy="669.8" r="4.4"/><circle cx="438" cy="669.8" r="4.4"/><circle cx="458" cy="669.8" r="4.4"/></g>
<g clip-path="url(#cb2)" stroke-width="8.6" stroke-linecap="round" fill="none">
<path d="M957.0 670.0L960.3 670.8" stroke="#ffed00"/>
<path d="M960.3 670.8L963.6 671.5" stroke="#ffe700"/>
<path d="M963.6 671.5L966.9 672.0" stroke="#ffe100"/>
<path d="M966.9 672.0L970.1 672.3" stroke="#fed900"/>
<path d="M970.1 672.3L973.3 672.6" stroke="#fdcb00"/>
<path d="M973.3 672.6L976.6 672.6" stroke="#fbbe00"/>
<path d="M976.6 672.6L979.8 672.5" stroke="#fab101"/>
<path d="M979.8 672.5L983.0 672.3" stroke="#f7a304"/>
<path d="M983.0 672.3L986.2 671.9" stroke="#f59508"/>
<path d="M937.0 670.0L940.3 671.6" stroke="#ffed00"/>
<path d="M940.3 671.6L943.5 673.2" stroke="#ffe700"/>
<path d="M943.5 673.2L946.7 674.6" stroke="#ffe100"/>
<path d="M946.7 674.6L949.7 675.8" stroke="#fed900"/>
<path d="M949.7 675.8L952.8 676.9" stroke="#fdcb00"/>
<path d="M952.8 676.9L955.7 678.0" stroke="#fbbe00"/>
<path d="M955.7 678.0L958.6 678.8" stroke="#fab101"/>
<path d="M958.6 678.8L961.4 679.6" stroke="#f7a304"/>
<path d="M961.4 679.6L964.3 680.2" stroke="#f59508"/>
<path d="M964.3 680.2L967.0 680.7" stroke="#f3850c"/>
<path d="M967.0 680.7L969.8 681.1" stroke="#f07410"/>
<path d="M969.8 681.1L972.5 681.3" stroke="#ee6414"/>
<path d="M972.5 681.3L975.3 681.4" stroke="#ea5119"/>
<path d="M975.3 681.4L978.0 681.4" stroke="#e63b1e"/>
<circle cx="978.0" cy="681.4" r="4.3" fill="#e00026" stroke="none"/>
<path d="M917.0 670.0L920.3 672.3" stroke="#ffed00"/>
<path d="M920.3 672.3L923.5 674.5" stroke="#ffe700"/>
<path d="M923.5 674.5L926.5 676.7" stroke="#ffe100"/>
<path d="M926.5 676.7L929.4 678.7" stroke="#fed900"/>
<path d="M929.4 678.7L932.3 680.6" stroke="#fdcb00"/>
<path d="M932.3 680.6L935.0 682.5" stroke="#fbbe00"/>
<path d="M935.0 682.5L937.6 684.2" stroke="#fab101"/>
<path d="M937.6 684.2L940.1 685.8" stroke="#f7a304"/>
<path d="M940.1 685.8L942.6 687.4" stroke="#f59508"/>
<path d="M942.6 687.4L944.9 688.8" stroke="#f3850c"/>
<path d="M944.9 688.8L947.2 690.2" stroke="#f07410"/>
<path d="M947.2 690.2L949.4 691.4" stroke="#ee6414"/>
<path d="M949.4 691.4L951.6 692.6" stroke="#ea5119"/>
<path d="M951.6 692.6L953.7 693.7" stroke="#e63b1e"/>
<circle cx="953.7" cy="693.7" r="4.3" fill="#e00026" stroke="none"/>
<path d="M897.0 670.0L900.3 672.8" stroke="#ffed00"/>
<path d="M900.3 672.8L903.4 675.5" stroke="#ffe700"/>
<path d="M903.4 675.5L906.4 678.1" stroke="#ffe100"/>
<path d="M906.4 678.1L909.2 680.7" stroke="#fed900"/>
<path d="M909.2 680.7L911.9 683.3" stroke="#fdcb00"/>
<path d="M911.9 683.3L914.5 685.7" stroke="#fbbe00"/>
<path d="M914.5 685.7L916.9 688.1" stroke="#fab101"/>
<path d="M916.9 688.1L919.2 690.5" stroke="#f7a304"/>
<path d="M919.2 690.5L921.4 692.7" stroke="#f59508"/>
<path d="M921.4 692.7L923.4 694.9" stroke="#f3850c"/>
<path d="M923.4 694.9L925.3 697.1" stroke="#f07410"/>
<path d="M925.3 697.1L927.2 699.2" stroke="#ee6414"/>
<path d="M927.2 699.2L928.9 701.2" stroke="#ea5119"/>
<path d="M928.9 701.2L930.4 703.2" stroke="#e63b1e"/>
<circle cx="930.4" cy="703.2" r="4.3" fill="#e00026" stroke="none"/>
<path d="M877.0 670.0L880.3 672.9" stroke="#ffed00"/>
<path d="M880.3 672.9L883.4 675.9" stroke="#ffe700"/>
<path d="M883.4 675.9L886.3 678.8" stroke="#ffe100"/>
<path d="M886.3 678.8L889.1 681.7" stroke="#fed900"/>
<path d="M889.1 681.7L891.8 684.6" stroke="#fdcb00"/>
<path d="M891.8 684.6L894.2 687.4" stroke="#fbbe00"/>
<path d="M894.2 687.4L896.6 690.2" stroke="#fab101"/>
<path d="M896.6 690.2L898.7 693.0" stroke="#f7a304"/>
<path d="M898.7 693.0L900.8 695.8" stroke="#f59508"/>
<path d="M900.8 695.8L902.6 698.5" stroke="#f3850c"/>
<path d="M902.6 698.5L904.3 701.2" stroke="#f07410"/>
<path d="M904.3 701.2L905.9 703.8" stroke="#ee6414"/>
<path d="M905.9 703.8L907.3 706.4" stroke="#ea5119"/>
<path d="M907.3 706.4L908.6 709.0" stroke="#e63b1e"/>
<circle cx="908.6" cy="709.0" r="4.3" fill="#e00026" stroke="none"/>
<path d="M857.0 670.0L860.3 672.8" stroke="#ffed00"/>
<path d="M860.3 672.8L863.4 675.7" stroke="#ffe700"/>
<path d="M863.4 675.7L866.4 678.6" stroke="#ffe100"/>
<path d="M866.4 678.6L869.2 681.5" stroke="#fed900"/>
<path d="M869.2 681.5L871.8 684.4" stroke="#fdcb00"/>
<path d="M871.8 684.4L874.3 687.4" stroke="#fbbe00"/>
<path d="M874.3 687.4L876.6 690.3" stroke="#fab101"/>
<path d="M876.6 690.3L878.8 693.3" stroke="#f7a304"/>
<path d="M878.8 693.3L880.8 696.2" stroke="#f59508"/>
<path d="M880.8 696.2L882.6 699.2" stroke="#f3850c"/>
<path d="M882.6 699.2L884.3 702.1" stroke="#f07410"/>
<path d="M884.3 702.1L885.8 705.0" stroke="#ee6414"/>
<path d="M885.8 705.0L887.1 707.9" stroke="#ea5119"/>
<path d="M887.1 707.9L888.3 710.8" stroke="#e63b1e"/>
<circle cx="888.3" cy="710.8" r="4.3" fill="#e00026" stroke="none"/>
<path d="M837.0 670.0L840.3 672.4" stroke="#ffed00"/>
<path d="M840.3 672.4L843.4 675.0" stroke="#ffe700"/>
<path d="M843.4 675.0L846.5 677.6" stroke="#ffe100"/>
<path d="M846.5 677.6L849.3 680.2" stroke="#fed900"/>
<path d="M849.3 680.2L852.0 682.9" stroke="#fdcb00"/>
<path d="M852.0 682.9L854.6 685.7" stroke="#fbbe00"/>
<path d="M854.6 685.7L857.0 688.5" stroke="#fab101"/>
<path d="M857.0 688.5L859.3 691.3" stroke="#f7a304"/>
<path d="M859.3 691.3L861.4 694.1" stroke="#f59508"/>
<path d="M861.4 694.1L863.4 697.0" stroke="#f3850c"/>
<path d="M863.4 697.0L865.1 699.9" stroke="#f07410"/>
<path d="M865.1 699.9L866.8 702.8" stroke="#ee6414"/>
<path d="M866.8 702.8L868.3 705.7" stroke="#ea5119"/>
<path d="M868.3 705.7L869.6 708.7" stroke="#e63b1e"/>
<circle cx="869.6" cy="708.7" r="4.3" fill="#e00026" stroke="none"/>
<path d="M817.0 670.0L820.3 671.8" stroke="#ffed00"/>
<path d="M820.3 671.8L823.5 673.7" stroke="#ffe700"/>
<path d="M823.5 673.7L826.6 675.8" stroke="#ffe100"/>
<path d="M826.6 675.8L829.6 677.9" stroke="#fed900"/>
<path d="M829.6 677.9L832.4 680.2" stroke="#fdcb00"/>
<path d="M832.4 680.2L835.2 682.5" stroke="#fbbe00"/>
<path d="M835.2 682.5L837.8 684.8" stroke="#fab101"/>
<path d="M837.8 684.8L840.3 687.3" stroke="#f7a304"/>
<path d="M840.3 687.3L842.6 689.8" stroke="#f59508"/>
<path d="M842.6 689.8L844.8 692.4" stroke="#f3850c"/>
<path d="M844.8 692.4L846.8 695.0" stroke="#f07410"/>
<path d="M846.8 695.0L848.8 697.6" stroke="#ee6414"/>
<path d="M848.8 697.6L850.5 700.3" stroke="#ea5119"/>
<path d="M850.5 700.3L852.1 703.1" stroke="#e63b1e"/>
<circle cx="852.1" cy="703.1" r="4.3" fill="#e00026" stroke="none"/>
<path d="M797.0 670.0L800.3 671.0" stroke="#ffed00"/>
<path d="M800.3 671.0L803.6 672.2" stroke="#ffe700"/>
<path d="M803.6 672.2L806.8 673.4" stroke="#ffe100"/>
<path d="M806.8 673.4L809.9 674.9" stroke="#fed900"/>
<path d="M809.9 674.9L813.0 676.4" stroke="#fdcb00"/>
<path d="M813.0 676.4L815.9 678.1" stroke="#fbbe00"/>
<path d="M815.9 678.1L818.8 679.8" stroke="#fab101"/>
<path d="M818.8 679.8L821.6 681.7" stroke="#f7a304"/>
<path d="M821.6 681.7L824.2 683.7" stroke="#f59508"/>
<path d="M824.2 683.7L826.8 685.7" stroke="#f3850c"/>
<path d="M826.8 685.7L829.2 687.9" stroke="#f07410"/>
<path d="M829.2 687.9L831.5 690.1" stroke="#ee6414"/>
<path d="M831.5 690.1L833.7 692.3" stroke="#ea5119"/>
<path d="M833.7 692.3L835.8 694.7" stroke="#e63b1e"/>
<circle cx="835.8" cy="694.7" r="4.3" fill="#e00026" stroke="none"/>
<path d="M777.0 670.0L780.4 670.1" stroke="#ffed00"/>
<path d="M780.4 670.1L783.7 670.4" stroke="#ffe700"/>
<path d="M783.7 670.4L787.0 670.8" stroke="#ffe100"/>
<path d="M787.0 670.8L790.3 671.3" stroke="#fed900"/>
<path d="M790.3 671.3L793.6 672.1" stroke="#fdcb00"/>
<path d="M793.6 672.1L796.8 672.9" stroke="#fbbe00"/>
<path d="M796.8 672.9L800.0 673.9" stroke="#fab101"/>
<path d="M800.0 673.9L803.1 675.0" stroke="#f7a304"/>
<path d="M803.1 675.0L806.1 676.3" stroke="#f59508"/>
<path d="M806.1 676.3L809.1 677.7" stroke="#f3850c"/>
<path d="M809.1 677.7L812.0 679.2" stroke="#f07410"/>
<path d="M812.0 679.2L814.8 680.8" stroke="#ee6414"/>
<path d="M814.8 680.8L817.5 682.5" stroke="#ea5119"/>
<path d="M817.5 682.5L820.1 684.4" stroke="#e63b1e"/>
<circle cx="820.1" cy="684.4" r="4.3" fill="#e00026" stroke="none"/>
<path d="M757.0 670.0L760.4 669.2" stroke="#ffed00"/>
<path d="M760.4 669.2L763.8 668.5" stroke="#ffe700"/>
<path d="M763.8 668.5L767.2 668.0" stroke="#ffe100"/>
<path d="M767.2 668.0L770.7 667.7" stroke="#fed900"/>
<path d="M770.7 667.7L774.2 667.5" stroke="#fdcb00"/>
<path d="M774.2 667.5L777.7 667.5" stroke="#fbbe00"/>
<path d="M777.7 667.5L781.2 667.6" stroke="#fab101"/>
<path d="M781.2 667.6L784.7 667.9" stroke="#f7a304"/>
<path d="M784.7 667.9L788.1 668.4" stroke="#f59508"/>
<path d="M788.1 668.4L791.6 669.0" stroke="#f3850c"/>
<path d="M791.6 669.0L794.9 669.8" stroke="#f07410"/>
<path d="M794.9 669.8L798.3 670.7" stroke="#ee6414"/>
<path d="M798.3 670.7L801.6 671.8" stroke="#ea5119"/>
<path d="M801.6 671.8L804.8 673.0" stroke="#e63b1e"/>
<circle cx="804.8" cy="673.0" r="4.3" fill="#e00026" stroke="none"/>
<path d="M737.0 670.0L740.4 668.4" stroke="#ffed00"/>
<path d="M740.4 668.4L743.9 666.8" stroke="#ffe700"/>
<path d="M743.9 666.8L747.5 665.5" stroke="#ffe100"/>
<path d="M747.5 665.5L751.1 664.3" stroke="#fed900"/>
<path d="M751.1 664.3L754.8 663.2" stroke="#fdcb00"/>
<path d="M754.8 663.2L758.6 662.3" stroke="#fbbe00"/>
<path d="M758.6 662.3L762.4 661.6" stroke="#fab101"/>
<path d="M762.4 661.6L766.2 661.0" stroke="#f7a304"/>
<path d="M766.2 661.0L770.0 660.6" stroke="#f59508"/>
<path d="M770.0 660.6L773.9 660.4" stroke="#f3850c"/>
<path d="M773.9 660.4L777.8 660.4" stroke="#f07410"/>
<path d="M777.8 660.4L781.7 660.6" stroke="#ee6414"/>
<path d="M781.7 660.6L785.6 660.9" stroke="#ea5119"/>
<path d="M785.6 660.9L789.4 661.4" stroke="#e63b1e"/>
<circle cx="789.4" cy="661.4" r="4.3" fill="#e00026" stroke="none"/>
<path d="M717.0 670.0L720.4 667.7" stroke="#ffed00"/>
<path d="M720.4 667.7L724.0 665.5" stroke="#ffe700"/>
<path d="M724.0 665.5L727.6 663.4" stroke="#ffe100"/>
<path d="M727.6 663.4L731.4 661.4" stroke="#fed900"/>
<path d="M731.4 661.4L735.3 659.5" stroke="#fdcb00"/>
<path d="M735.3 659.5L739.3 657.8" stroke="#fbbe00"/>
<path d="M739.3 657.8L743.3 656.3" stroke="#fab101"/>
<path d="M743.3 656.3L747.5 654.9" stroke="#f7a304"/>
<path d="M747.5 654.9L751.7 653.7" stroke="#f59508"/>
<path d="M751.7 653.7L756.0 652.7" stroke="#f3850c"/>
<path d="M756.0 652.7L760.3 651.9" stroke="#f07410"/>
<path d="M760.3 651.9L764.7 651.2" stroke="#ee6414"/>
<path d="M764.7 651.2L769.1 650.8" stroke="#ea5119"/>
<path d="M769.1 650.8L773.5 650.6" stroke="#e63b1e"/>
<circle cx="773.5" cy="650.6" r="4.3" fill="#e00026" stroke="none"/>
<path d="M697.0 670.0L700.4 667.2" stroke="#ffed00"/>
<path d="M700.4 667.2L704.0 664.5" stroke="#ffe700"/>
<path d="M704.0 664.5L707.7 661.9" stroke="#ffe100"/>
<path d="M707.7 661.9L711.6 659.3" stroke="#fed900"/>
<path d="M711.6 659.3L715.6 656.9" stroke="#fdcb00"/>
<path d="M715.6 656.9L719.8 654.5" stroke="#fbbe00"/>
<path d="M719.8 654.5L724.0 652.3" stroke="#fab101"/>
<path d="M724.0 652.3L728.4 650.2" stroke="#f7a304"/>
<path d="M728.4 650.2L732.9 648.3" stroke="#f59508"/>
<path d="M732.9 648.3L737.5 646.5" stroke="#f3850c"/>
<path d="M737.5 646.5L742.2 644.9" stroke="#f07410"/>
<path d="M742.2 644.9L747.0 643.5" stroke="#ee6414"/>
<path d="M747.0 643.5L751.8 642.3" stroke="#ea5119"/>
<path d="M751.8 642.3L756.7 641.3" stroke="#e63b1e"/>
<circle cx="756.7" cy="641.3" r="4.3" fill="#e00026" stroke="none"/>
<path d="M677.0 670.0L680.4 667.1" stroke="#ffed00"/>
<path d="M680.4 667.1L684.0 664.1" stroke="#ffe700"/>
<path d="M684.0 664.1L687.8 661.2" stroke="#ffe100"/>
<path d="M687.8 661.2L691.7 658.3" stroke="#fed900"/>
<path d="M691.7 658.3L695.8 655.5" stroke="#fdcb00"/>
<path d="M695.8 655.5L700.0 652.7" stroke="#fbbe00"/>
<path d="M700.0 652.7L704.4 650.0" stroke="#fab101"/>
<path d="M704.4 650.0L708.9 647.4" stroke="#f7a304"/>
<path d="M708.9 647.4L713.6 644.9" stroke="#f59508"/>
<path d="M713.6 644.9L718.4 642.5" stroke="#f3850c"/>
<path d="M718.4 642.5L723.3 640.2" stroke="#f07410"/>
<path d="M723.3 640.2L728.4 638.1" stroke="#ee6414"/>
<path d="M728.4 638.1L733.5 636.2" stroke="#ea5119"/>
<path d="M733.5 636.2L738.8 634.5" stroke="#e63b1e"/>
<circle cx="738.8" cy="634.5" r="4.3" fill="#e00026" stroke="none"/>
<path d="M657.0 670.0L660.4 667.2" stroke="#ffed00"/>
<path d="M660.4 667.2L664.0 664.3" stroke="#ffe700"/>
<path d="M664.0 664.3L667.8 661.4" stroke="#ffe100"/>
<path d="M667.8 661.4L671.7 658.5" stroke="#fed900"/>
<path d="M671.7 658.5L675.8 655.5" stroke="#fdcb00"/>
<path d="M675.8 655.5L680.0 652.6" stroke="#fbbe00"/>
<path d="M680.0 652.6L684.4 649.6" stroke="#fab101"/>
<path d="M684.4 649.6L688.9 646.7" stroke="#f7a304"/>
<path d="M688.9 646.7L693.6 643.9" stroke="#f59508"/>
<path d="M693.6 643.9L698.5 641.1" stroke="#f3850c"/>
<path d="M698.5 641.1L703.5 638.3" stroke="#f07410"/>
<path d="M703.5 638.3L708.7 635.7" stroke="#ee6414"/>
<path d="M708.7 635.7L714.0 633.2" stroke="#ea5119"/>
<path d="M714.0 633.2L719.5 630.8" stroke="#e63b1e"/>
<circle cx="719.5" cy="630.8" r="4.3" fill="#e00026" stroke="none"/>
<path d="M637.0 670.0L640.4 667.6" stroke="#ffed00"/>
<path d="M640.4 667.6L644.0 665.0" stroke="#ffe700"/>
<path d="M644.0 665.0L647.7 662.4" stroke="#ffe100"/>
<path d="M647.7 662.4L651.5 659.7" stroke="#fed900"/>
<path d="M651.5 659.7L655.5 657.0" stroke="#fdcb00"/>
<path d="M655.5 657.0L659.7 654.2" stroke="#fbbe00"/>
<path d="M659.7 654.2L664.0 651.3" stroke="#fab101"/>
<path d="M664.0 651.3L668.4 648.4" stroke="#f7a304"/>
<path d="M668.4 648.4L673.1 645.4" stroke="#f59508"/>
<path d="M673.1 645.4L677.9 642.5" stroke="#f3850c"/>
<path d="M677.9 642.5L682.8 639.6" stroke="#f07410"/>
<path d="M682.8 639.6L687.9 636.6" stroke="#ee6414"/>
<path d="M687.9 636.6L693.2 633.8" stroke="#ea5119"/>
<path d="M693.2 633.8L698.6 631.0" stroke="#e63b1e"/>
<circle cx="698.6" cy="631.0" r="4.3" fill="#e00026" stroke="none"/>
<path d="M617.0 670.0L620.4 668.2" stroke="#ffed00"/>
<path d="M620.4 668.2L623.9 666.2" stroke="#ffe700"/>
<path d="M623.9 666.2L627.5 664.2" stroke="#ffe100"/>
<path d="M627.5 664.2L631.3 662.0" stroke="#fed900"/>
<path d="M631.3 662.0L635.1 659.7" stroke="#fdcb00"/>
<path d="M635.1 659.7L639.1 657.3" stroke="#fbbe00"/>
<path d="M639.1 657.3L643.2 654.8" stroke="#fab101"/>
<path d="M643.2 654.8L647.5 652.2" stroke="#f7a304"/>
<path d="M647.5 652.2L651.9 649.5" stroke="#f59508"/>
<path d="M651.9 649.5L656.5 646.7" stroke="#f3850c"/>
<path d="M656.5 646.7L661.2 643.9" stroke="#f07410"/>
<path d="M661.2 643.9L666.0 641.0" stroke="#ee6414"/>
<path d="M666.0 641.0L671.1 638.1" stroke="#ea5119"/>
<path d="M671.1 638.1L676.3 635.2" stroke="#e63b1e"/>
<circle cx="676.3" cy="635.2" r="4.3" fill="#e00026" stroke="none"/>
<path d="M597.0 670.0L600.4 669.0" stroke="#ffed00"/>
<path d="M600.4 669.0L603.8 667.8" stroke="#ffe700"/>
<path d="M603.8 667.8L607.3 666.5" stroke="#ffe100"/>
<path d="M607.3 666.5L610.9 665.1" stroke="#fed900"/>
<path d="M610.9 665.1L614.6 663.5" stroke="#fdcb00"/>
<path d="M614.6 663.5L618.4 661.8" stroke="#fbbe00"/>
<path d="M618.4 661.8L622.2 659.9" stroke="#fab101"/>
<path d="M622.2 659.9L626.2 657.9" stroke="#f7a304"/>
<path d="M626.2 657.9L630.3 655.7" stroke="#f59508"/>
<path d="M630.3 655.7L634.5 653.5" stroke="#f3850c"/>
<path d="M634.5 653.5L638.8 651.1" stroke="#f07410"/>
<path d="M638.8 651.1L643.3 648.6" stroke="#ee6414"/>
<path d="M643.3 648.6L647.9 646.0" stroke="#ea5119"/>
<path d="M647.9 646.0L652.6 643.3" stroke="#e63b1e"/>
<circle cx="652.6" cy="643.3" r="4.3" fill="#e00026" stroke="none"/>
<path d="M577.0 670.0L580.4 669.9" stroke="#ffed00"/>
<path d="M580.4 669.9L583.7 669.6" stroke="#ffe700"/>
<path d="M583.7 669.6L587.1 669.2" stroke="#ffe100"/>
<path d="M587.1 669.2L590.5 668.6" stroke="#fed900"/>
<path d="M590.5 668.6L594.0 667.9" stroke="#fdcb00"/>
<path d="M594.0 667.9L597.5 667.0" stroke="#fbbe00"/>
<path d="M597.5 667.0L601.0 666.0" stroke="#fab101"/>
<path d="M601.0 666.0L604.6 664.8" stroke="#f7a304"/>
<path d="M604.6 664.8L608.3 663.5" stroke="#f59508"/>
<path d="M608.3 663.5L612.1 662.0" stroke="#f3850c"/>
<path d="M612.1 662.0L615.9 660.3" stroke="#f07410"/>
<path d="M615.9 660.3L619.8 658.6" stroke="#ee6414"/>
<path d="M619.8 658.6L623.9 656.6" stroke="#ea5119"/>
<path d="M623.9 656.6L628.0 654.6" stroke="#e63b1e"/>
<circle cx="628.0" cy="654.6" r="4.3" fill="#e00026" stroke="none"/>
<path d="M570.1 672.3L573.3 672.6" stroke="#fdcb00"/>
<path d="M573.3 672.6L576.6 672.6" stroke="#fbbe00"/>
<path d="M576.6 672.6L579.8 672.5" stroke="#fab101"/>
<path d="M579.8 672.5L583.0 672.3" stroke="#f7a304"/>
<path d="M583.0 672.3L586.2 671.9" stroke="#f59508"/>
<path d="M586.2 671.9L589.5 671.4" stroke="#f3850c"/>
<path d="M589.5 671.4L592.8 670.7" stroke="#f07410"/>
<path d="M592.8 670.7L596.1 669.9" stroke="#ee6414"/>
<path d="M596.1 669.9L599.5 668.9" stroke="#ea5119"/>
<path d="M599.5 668.9L603.0 667.8" stroke="#e63b1e"/>
<circle cx="603.0" cy="667.8" r="4.3" fill="#e00026" stroke="none"/>
<path d="M569.8 681.1L572.5 681.3" stroke="#ee6414"/>
<path d="M572.5 681.3L575.3 681.4" stroke="#ea5119"/>
<path d="M575.3 681.4L578.0 681.4" stroke="#e63b1e"/>
<circle cx="578.0" cy="681.4" r="4.3" fill="#e00026" stroke="none"/>
</g>
<g clip-path="url(#cb3)" stroke-width="8.6" stroke-linecap="round" fill="none">
<path d="M1457.0 670.0L1461.2 671.0" stroke="#ffee00"/>
<path d="M1461.2 671.0L1465.4 671.8" stroke="#ffea00"/>
<path d="M1465.4 671.8L1469.5 672.3" stroke="#ffe700"/>
<path d="M1469.5 672.3L1473.6 672.6" stroke="#ffe300"/>
<path d="M1473.6 672.6L1477.7 672.6" stroke="#ffdf00"/>
<path d="M1477.7 672.6L1481.8 672.4" stroke="#fed900"/>
<path d="M1481.8 672.4L1485.9 672.0" stroke="#fdd000"/>
<path d="M1437.0 670.0L1441.2 672.1" stroke="#ffee00"/>
<path d="M1441.2 672.1L1445.2 673.9" stroke="#ffea00"/>
<path d="M1445.2 673.9L1449.2 675.6" stroke="#ffe700"/>
<path d="M1449.2 675.6L1453.0 677.0" stroke="#ffe300"/>
<path d="M1453.0 677.0L1456.7 678.3" stroke="#ffdf00"/>
<path d="M1456.7 678.3L1460.4 679.3" stroke="#fed900"/>
<path d="M1460.4 679.3L1464.0 680.1" stroke="#fdd000"/>
<path d="M1464.0 680.1L1467.5 680.8" stroke="#fcc800"/>
<path d="M1467.5 680.8L1471.0 681.2" stroke="#fbc000"/>
<path d="M1471.0 681.2L1474.5 681.4" stroke="#fab700"/>
<path d="M1474.5 681.4L1478.0 681.4" stroke="#f9af01"/>
<path d="M1478.0 681.4L1481.4 681.2" stroke="#f8a504"/>
<path d="M1481.4 681.2L1484.9 680.8" stroke="#f69c06"/>
<path d="M1417.0 670.0L1421.2 672.9" stroke="#ffee00"/>
<path d="M1421.2 672.9L1425.1 675.7" stroke="#ffea00"/>
<path d="M1425.1 675.7L1428.9 678.3" stroke="#ffe700"/>
<path d="M1428.9 678.3L1432.5 680.8" stroke="#ffe300"/>
<path d="M1432.5 680.8L1435.9 683.1" stroke="#ffdf00"/>
<path d="M1435.9 683.1L1439.2 685.2" stroke="#fed900"/>
<path d="M1439.2 685.2L1442.3 687.2" stroke="#fdd000"/>
<path d="M1442.3 687.2L1445.3 689.1" stroke="#fcc800"/>
<path d="M1445.3 689.1L1448.2 690.7" stroke="#fbc000"/>
<path d="M1448.2 690.7L1451.0 692.3" stroke="#fab700"/>
<path d="M1451.0 692.3L1453.6 693.6" stroke="#f9af01"/>
<path d="M1453.6 693.6L1456.2 694.9" stroke="#f8a504"/>
<path d="M1456.2 694.9L1458.7 696.0" stroke="#f69c06"/>
<path d="M1458.7 696.0L1461.1 696.9" stroke="#f59308"/>
<path d="M1461.1 696.9L1463.5 697.8" stroke="#f48a0b"/>
<path d="M1463.5 697.8L1465.8 698.5" stroke="#f27f0d"/>
<path d="M1465.8 698.5L1468.0 699.0" stroke="#f07410"/>
<path d="M1468.0 699.0L1470.3 699.4" stroke="#ef6a13"/>
<path d="M1470.3 699.4L1472.5 699.7" stroke="#ed5e15"/>
<path d="M1472.5 699.7L1474.6 699.9" stroke="#eb5218"/>
<path d="M1474.6 699.9L1476.8 699.9" stroke="#e8461b"/>
<path d="M1476.8 699.9L1479.0 699.8" stroke="#e6361e"/>
<circle cx="1479.0" cy="699.8" r="4.3" fill="#e00026" stroke="none"/>
<path d="M1397.0 670.0L1401.1 673.5" stroke="#ffee00"/>
<path d="M1401.1 673.5L1405.0 676.9" stroke="#ffea00"/>
<path d="M1405.0 676.9L1408.7 680.2" stroke="#ffe700"/>
<path d="M1408.7 680.2L1412.1 683.5" stroke="#ffe300"/>
<path d="M1412.1 683.5L1415.4 686.6" stroke="#ffdf00"/>
<path d="M1415.4 686.6L1418.4 689.6" stroke="#fed900"/>
<path d="M1418.4 689.6L1421.2 692.5" stroke="#fdd000"/>
<path d="M1421.2 692.5L1423.8 695.3" stroke="#fcc800"/>
<path d="M1423.8 695.3L1426.2 698.0" stroke="#fbc000"/>
<path d="M1426.2 698.0L1428.4 700.6" stroke="#fab700"/>
<path d="M1428.4 700.6L1430.4 703.1" stroke="#f9af01"/>
<path d="M1430.4 703.1L1432.3 705.6" stroke="#f8a504"/>
<path d="M1432.3 705.6L1434.0 707.9" stroke="#f69c06"/>
<path d="M1434.0 707.9L1435.5 710.2" stroke="#f59308"/>
<path d="M1435.5 710.2L1436.9 712.4" stroke="#f48a0b"/>
<path d="M1436.9 712.4L1438.1 714.6" stroke="#f27f0d"/>
<path d="M1438.1 714.6L1439.2 716.7" stroke="#f07410"/>
<path d="M1439.2 716.7L1440.1 718.7" stroke="#ef6a13"/>
<path d="M1440.1 718.7L1440.9 720.7" stroke="#ed5e15"/>
<path d="M1440.9 720.7L1441.6 722.7" stroke="#eb5218"/>
<path d="M1441.6 722.7L1442.1 724.6" stroke="#e8461b"/>
<path d="M1442.1 724.6L1442.5 726.5" stroke="#e6361e"/>
<circle cx="1442.5" cy="726.5" r="4.3" fill="#e00026" stroke="none"/>
<path d="M1377.0 670.0L1381.1 673.7" stroke="#ffee00"/>
<path d="M1381.1 673.7L1385.0 677.5" stroke="#ffea00"/>
<path d="M1385.0 677.5L1388.6 681.2" stroke="#ffe700"/>
<path d="M1388.6 681.2L1392.0 684.8" stroke="#ffe300"/>
<path d="M1392.0 684.8L1395.1 688.4" stroke="#ffdf00"/>
<path d="M1395.1 688.4L1397.9 692.0" stroke="#fed900"/>
<path d="M1397.9 692.0L1400.6 695.5" stroke="#fdd000"/>
<path d="M1400.6 695.5L1402.9 698.9" stroke="#fcc800"/>
<path d="M1402.9 698.9L1405.0 702.3" stroke="#fbc000"/>
<path d="M1405.0 702.3L1406.9 705.7" stroke="#fab700"/>
<path d="M1406.9 705.7L1408.6 709.0" stroke="#f9af01"/>
<path d="M1408.6 709.0L1410.0 712.2" stroke="#f8a504"/>
<path d="M1410.0 712.2L1411.2 715.4" stroke="#f69c06"/>
<path d="M1411.2 715.4L1412.2 718.6" stroke="#f59308"/>
<path d="M1412.2 718.6L1413.0 721.8" stroke="#f48a0b"/>
<path d="M1413.0 721.8L1413.5 724.9" stroke="#f27f0d"/>
<path d="M1413.5 724.9L1413.8 728.0" stroke="#f07410"/>
<path d="M1413.8 728.0L1413.9 731.1" stroke="#ef6a13"/>
<path d="M1413.9 731.1L1413.8 734.3" stroke="#ed5e15"/>
<path d="M1413.8 734.3L1413.5 737.4" stroke="#eb5218"/>
<path d="M1413.5 737.4L1412.9 740.5" stroke="#e8461b"/>
<path d="M1412.9 740.5L1412.2 743.7" stroke="#e6361e"/>
<circle cx="1412.2" cy="743.7" r="4.3" fill="#e00026" stroke="none"/>
<path d="M1357.0 670.0L1361.1 673.6" stroke="#ffee00"/>
<path d="M1361.1 673.6L1365.0 677.3" stroke="#ffea00"/>
<path d="M1365.0 677.3L1368.7 681.0" stroke="#ffe700"/>
<path d="M1368.7 681.0L1372.0 684.7" stroke="#ffe300"/>
<path d="M1372.0 684.7L1375.1 688.4" stroke="#ffdf00"/>
<path d="M1375.1 688.4L1378.0 692.2" stroke="#fed900"/>
<path d="M1378.0 692.2L1380.6 695.9" stroke="#fdd000"/>
<path d="M1380.6 695.9L1382.9 699.7" stroke="#fcc800"/>
<path d="M1382.9 699.7L1385.0 703.4" stroke="#fbc000"/>
<path d="M1385.0 703.4L1386.8 707.1" stroke="#fab700"/>
<path d="M1386.8 707.1L1388.3 710.8" stroke="#f9af01"/>
<path d="M1388.3 710.8L1389.6 714.4" stroke="#f8a504"/>
<path d="M1389.6 714.4L1390.6 718.1" stroke="#f69c06"/>
<path d="M1390.6 718.1L1391.4 721.7" stroke="#f59308"/>
<path d="M1391.4 721.7L1391.9 725.4" stroke="#f48a0b"/>
<path d="M1391.9 725.4L1392.2 729.0" stroke="#f27f0d"/>
<path d="M1392.2 729.0L1392.2 732.6" stroke="#f07410"/>
<path d="M1392.2 732.6L1392.0 736.3" stroke="#ef6a13"/>
<path d="M1392.0 736.3L1391.5 739.9" stroke="#ed5e15"/>
<path d="M1391.5 739.9L1390.8 743.5" stroke="#eb5218"/>
<path d="M1390.8 743.5L1389.8 747.2" stroke="#e8461b"/>
<path d="M1389.8 747.2L1388.5 750.9" stroke="#e6361e"/>
<circle cx="1388.5" cy="750.9" r="4.3" fill="#e00026" stroke="none"/>
<path d="M1337.0 670.0L1341.2 673.1" stroke="#ffee00"/>
<path d="M1341.2 673.1L1345.1 676.4" stroke="#ffea00"/>
<path d="M1345.1 676.4L1348.8 679.7" stroke="#ffe700"/>
<path d="M1348.8 679.7L1352.3 683.2" stroke="#ffe300"/>
<path d="M1352.3 683.2L1355.5 686.7" stroke="#ffdf00"/>
<path d="M1355.5 686.7L1358.5 690.2" stroke="#fed900"/>
<path d="M1358.5 690.2L1361.2 693.9" stroke="#fdd000"/>
<path d="M1361.2 693.9L1363.7 697.5" stroke="#fcc800"/>
<path d="M1363.7 697.5L1365.9 701.2" stroke="#fbc000"/>
<path d="M1365.9 701.2L1367.8 704.9" stroke="#fab700"/>
<path d="M1367.8 704.9L1369.5 708.6" stroke="#f9af01"/>
<path d="M1369.5 708.6L1371.0 712.3" stroke="#f8a504"/>
<path d="M1371.0 712.3L1372.2 716.1" stroke="#f69c06"/>
<path d="M1372.2 716.1L1373.1 719.8" stroke="#f59308"/>
<path d="M1373.1 719.8L1373.7 723.6" stroke="#f48a0b"/>
<path d="M1373.7 723.6L1374.1 727.3" stroke="#f27f0d"/>
<path d="M1374.1 727.3L1374.3 731.0" stroke="#f07410"/>
<path d="M1374.3 731.0L1374.1 734.8" stroke="#ef6a13"/>
<path d="M1374.1 734.8L1373.8 738.5" stroke="#ed5e15"/>
<path d="M1373.8 738.5L1373.1 742.3" stroke="#eb5218"/>
<path d="M1373.1 742.3L1372.2 746.0" stroke="#e8461b"/>
<path d="M1372.2 746.0L1371.0 749.7" stroke="#e6361e"/>
<circle cx="1371.0" cy="749.7" r="4.3" fill="#e00026" stroke="none"/>
<path d="M1317.0 670.0L1321.2 672.3" stroke="#ffee00"/>
<path d="M1321.2 672.3L1325.2 674.8" stroke="#ffea00"/>
<path d="M1325.2 674.8L1329.0 677.5" stroke="#ffe700"/>
<path d="M1329.0 677.5L1332.7 680.3" stroke="#ffe300"/>
<path d="M1332.7 680.3L1336.1 683.3" stroke="#ffdf00"/>
<path d="M1336.1 683.3L1339.4 686.4" stroke="#fed900"/>
<path d="M1339.4 686.4L1342.4 689.6" stroke="#fdd000"/>
<path d="M1342.4 689.6L1345.2 692.8" stroke="#fcc800"/>
<path d="M1345.2 692.8L1347.7 696.2" stroke="#fbc000"/>
<path d="M1347.7 696.2L1350.0 699.6" stroke="#fab700"/>
<path d="M1350.0 699.6L1352.1 703.0" stroke="#f9af01"/>
<path d="M1352.1 703.0L1354.0 706.5" stroke="#f8a504"/>
<path d="M1354.0 706.5L1355.5 710.0" stroke="#f69c06"/>
<path d="M1355.5 710.0L1356.9 713.6" stroke="#f59308"/>
<path d="M1356.9 713.6L1358.0 717.2" stroke="#f48a0b"/>
<path d="M1358.0 717.2L1358.8 720.8" stroke="#f27f0d"/>
<path d="M1358.8 720.8L1359.4 724.4" stroke="#f07410"/>
<path d="M1359.4 724.4L1359.8 728.0" stroke="#ef6a13"/>
<path d="M1359.8 728.0L1359.9 731.6" stroke="#ed5e15"/>
<path d="M1359.9 731.6L1359.7 735.2" stroke="#eb5218"/>
<path d="M1359.7 735.2L1359.3 738.8" stroke="#e8461b"/>
<path d="M1359.3 738.8L1358.6 742.4" stroke="#e6361e"/>
<circle cx="1358.6" cy="742.4" r="4.3" fill="#e00026" stroke="none"/>
<path d="M1297.0 670.0L1301.2 671.3" stroke="#ffee00"/>
<path d="M1301.2 671.3L1305.3 672.8" stroke="#ffea00"/>
<path d="M1305.3 672.8L1309.4 674.6" stroke="#ffe700"/>
<path d="M1309.4 674.6L1313.2 676.5" stroke="#ffe300"/>
<path d="M1313.2 676.5L1317.0 678.7" stroke="#ffdf00"/>
<path d="M1317.0 678.7L1320.5 681.0" stroke="#fed900"/>
<path d="M1320.5 681.0L1324.0 683.5" stroke="#fdd000"/>
<path d="M1324.0 683.5L1327.2 686.1" stroke="#fcc800"/>
<path d="M1327.2 686.1L1330.2 688.8" stroke="#fbc000"/>
<path d="M1330.2 688.8L1333.1 691.7" stroke="#fab700"/>
<path d="M1333.1 691.7L1335.7 694.6" stroke="#f9af01"/>
<path d="M1335.7 694.6L1338.2 697.7" stroke="#f8a504"/>
<path d="M1338.2 697.7L1340.4 700.8" stroke="#f69c06"/>
<path d="M1340.4 700.8L1342.4 704.0" stroke="#f59308"/>
<path d="M1342.4 704.0L1344.2 707.3" stroke="#f48a0b"/>
<path d="M1344.2 707.3L1345.7 710.6" stroke="#f27f0d"/>
<path d="M1345.7 710.6L1347.1 713.9" stroke="#f07410"/>
<path d="M1347.1 713.9L1348.1 717.3" stroke="#ef6a13"/>
<path d="M1348.1 717.3L1349.0 720.7" stroke="#ed5e15"/>
<path d="M1349.0 720.7L1349.6 724.1" stroke="#eb5218"/>
<path d="M1349.6 724.1L1350.0 727.5" stroke="#e8461b"/>
<path d="M1350.0 727.5L1350.1 730.9" stroke="#e6361e"/>
<circle cx="1350.1" cy="730.9" r="4.3" fill="#e00026" stroke="none"/>
<path d="M1277.0 670.0L1281.3 670.2" stroke="#ffee00"/>
<path d="M1281.3 670.2L1285.5 670.6" stroke="#ffea00"/>
<path d="M1285.5 670.6L1289.7 671.2" stroke="#ffe700"/>
<path d="M1289.7 671.2L1293.9 672.1" stroke="#ffe300"/>
<path d="M1293.9 672.1L1297.9 673.3" stroke="#ffdf00"/>
<path d="M1297.9 673.3L1301.9 674.6" stroke="#fed900"/>
<path d="M1301.9 674.6L1305.8 676.2" stroke="#fdd000"/>
<path d="M1305.8 676.2L1309.6 677.9" stroke="#fcc800"/>
<path d="M1309.6 677.9L1313.2 679.9" stroke="#fbc000"/>
<path d="M1313.2 679.9L1316.7 682.0" stroke="#fab700"/>
<path d="M1316.7 682.0L1320.1 684.3" stroke="#f9af01"/>
<path d="M1320.1 684.3L1323.3 686.8" stroke="#f8a504"/>
<path d="M1323.3 686.8L1326.3 689.4" stroke="#f69c06"/>
<path d="M1326.3 689.4L1329.1 692.1" stroke="#f59308"/>
<path d="M1329.1 692.1L1331.7 694.9" stroke="#f48a0b"/>
<path d="M1331.7 694.9L1334.2 697.8" stroke="#f27f0d"/>
<path d="M1334.2 697.8L1336.4 700.8" stroke="#f07410"/>
<path d="M1336.4 700.8L1338.4 703.8" stroke="#ef6a13"/>
<path d="M1338.4 703.8L1340.2 707.0" stroke="#ed5e15"/>
<path d="M1340.2 707.0L1341.8 710.1" stroke="#eb5218"/>
<path d="M1341.8 710.1L1343.1 713.4" stroke="#e8461b"/>
<path d="M1343.1 713.4L1344.2 716.6" stroke="#e6361e"/>
<circle cx="1344.2" cy="716.6" r="4.3" fill="#e00026" stroke="none"/>
<path d="M1257.0 670.0L1261.3 669.0" stroke="#ffee00"/>
<path d="M1261.3 669.0L1265.7 668.2" stroke="#ffea00"/>
<path d="M1265.7 668.2L1270.1 667.7" stroke="#ffe700"/>
<path d="M1270.1 667.7L1274.5 667.5" stroke="#ffe300"/>
<path d="M1274.5 667.5L1278.9 667.5" stroke="#ffdf00"/>
<path d="M1278.9 667.5L1283.4 667.8" stroke="#fed900"/>
<path d="M1283.4 667.8L1287.8 668.3" stroke="#fdd000"/>
<path d="M1287.8 668.3L1292.1 669.1" stroke="#fcc800"/>
<path d="M1292.1 669.1L1296.4 670.2" stroke="#fbc000"/>
<path d="M1296.4 670.2L1300.6 671.5" stroke="#fab700"/>
<path d="M1300.6 671.5L1304.8 673.0" stroke="#f9af01"/>
<path d="M1304.8 673.0L1308.8 674.7" stroke="#f8a504"/>
<path d="M1308.8 674.7L1312.6 676.6" stroke="#f69c06"/>
<path d="M1312.6 676.6L1316.4 678.7" stroke="#f59308"/>
<path d="M1316.4 678.7L1319.9 681.0" stroke="#f48a0b"/>
<path d="M1319.9 681.0L1323.4 683.4" stroke="#f27f0d"/>
<path d="M1323.4 683.4L1326.6 686.0" stroke="#f07410"/>
<path d="M1326.6 686.0L1329.6 688.7" stroke="#ef6a13"/>
<path d="M1329.6 688.7L1332.5 691.6" stroke="#ed5e15"/>
<path d="M1332.5 691.6L1335.2 694.5" stroke="#eb5218"/>
<path d="M1335.2 694.5L1337.6 697.5" stroke="#e8461b"/>
<path d="M1337.6 697.5L1339.8 700.7" stroke="#e6361e"/>
<circle cx="1339.8" cy="700.7" r="4.3" fill="#e00026" stroke="none"/>
<path d="M1237.0 670.0L1241.3 667.9" stroke="#ffee00"/>
<path d="M1241.3 667.9L1245.8 666.1" stroke="#ffea00"/>
<path d="M1245.8 666.1L1250.4 664.5" stroke="#ffe700"/>
<path d="M1250.4 664.5L1255.1 663.1" stroke="#ffe300"/>
<path d="M1255.1 663.1L1259.9 662.0" stroke="#ffdf00"/>
<path d="M1259.9 662.0L1264.8 661.2" stroke="#fed900"/>
<path d="M1264.8 661.2L1269.7 660.7" stroke="#fdd000"/>
<path d="M1269.7 660.7L1274.6 660.4" stroke="#fcc800"/>
<path d="M1274.6 660.4L1279.5 660.5" stroke="#fbc000"/>
<path d="M1279.5 660.5L1284.4 660.8" stroke="#fab700"/>
<path d="M1284.4 660.8L1289.3 661.4" stroke="#f9af01"/>
<path d="M1289.3 661.4L1294.2 662.3" stroke="#f8a504"/>
<path d="M1294.2 662.3L1298.9 663.5" stroke="#f69c06"/>
<path d="M1298.9 663.5L1303.6 664.9" stroke="#f59308"/>
<path d="M1303.6 664.9L1308.2 666.6" stroke="#f48a0b"/>
<path d="M1308.2 666.6L1312.6 668.5" stroke="#f27f0d"/>
<path d="M1312.6 668.5L1316.9 670.6" stroke="#f07410"/>
<path d="M1316.9 670.6L1321.1 672.9" stroke="#ef6a13"/>
<path d="M1321.1 672.9L1325.0 675.4" stroke="#ed5e15"/>
<path d="M1325.0 675.4L1328.8 678.1" stroke="#eb5218"/>
<path d="M1328.8 678.1L1332.4 680.9" stroke="#e8461b"/>
<path d="M1332.4 680.9L1335.8 683.9" stroke="#e6361e"/>
<circle cx="1335.8" cy="683.9" r="4.3" fill="#e00026" stroke="none"/>
<path d="M1217.0 670.0L1221.4 667.1" stroke="#ffee00"/>
<path d="M1221.4 667.1L1225.9 664.3" stroke="#ffea00"/>
<path d="M1225.9 664.3L1230.7 661.7" stroke="#ffe700"/>
<path d="M1230.7 661.7L1235.6 659.4" stroke="#ffe300"/>
<path d="M1235.6 659.4L1240.7 657.3" stroke="#ffdf00"/>
<path d="M1240.7 657.3L1245.9 655.4" stroke="#fed900"/>
<path d="M1245.9 655.4L1251.3 653.8" stroke="#fdd000"/>
<path d="M1251.3 653.8L1256.7 652.5" stroke="#fcc800"/>
<path d="M1256.7 652.5L1262.2 651.6" stroke="#fbc000"/>
<path d="M1262.2 651.6L1267.8 650.9" stroke="#fab700"/>
<path d="M1267.8 650.9L1273.4 650.6" stroke="#f9af01"/>
<path d="M1273.4 650.6L1279.0 650.5" stroke="#f8a504"/>
<path d="M1279.0 650.5L1284.7 650.9" stroke="#f69c06"/>
<path d="M1284.7 650.9L1290.2 651.5" stroke="#f59308"/>
<path d="M1290.2 651.5L1295.8 652.5" stroke="#f48a0b"/>
<path d="M1295.8 652.5L1301.2 653.8" stroke="#f27f0d"/>
<path d="M1301.2 653.8L1306.6 655.3" stroke="#f07410"/>
<path d="M1306.6 655.3L1311.8 657.2" stroke="#ef6a13"/>
<path d="M1311.8 657.2L1316.9 659.3" stroke="#ed5e15"/>
<path d="M1316.9 659.3L1321.8 661.6" stroke="#eb5218"/>
<path d="M1321.8 661.6L1326.6 664.2" stroke="#e8461b"/>
<path d="M1326.6 664.2L1331.2 666.9" stroke="#e6361e"/>
<circle cx="1331.2" cy="666.9" r="4.3" fill="#e00026" stroke="none"/>
<path d="M1197.0 670.0L1201.4 666.5" stroke="#ffee00"/>
<path d="M1201.4 666.5L1206.0 663.1" stroke="#ffea00"/>
<path d="M1206.0 663.1L1210.9 659.8" stroke="#ffe700"/>
<path d="M1210.9 659.8L1216.0 656.7" stroke="#ffe300"/>
<path d="M1216.0 656.7L1221.3 653.7" stroke="#ffdf00"/>
<path d="M1221.3 653.7L1226.8 651.0" stroke="#fed900"/>
<path d="M1226.8 651.0L1232.5 648.5" stroke="#fdd000"/>
<path d="M1232.5 648.5L1238.3 646.2" stroke="#fcc800"/>
<path d="M1238.3 646.2L1244.3 644.3" stroke="#fbc000"/>
<path d="M1244.3 644.3L1250.4 642.6" stroke="#fab700"/>
<path d="M1250.4 642.6L1256.6 641.3" stroke="#f9af01"/>
<path d="M1256.6 641.3L1263.0 640.3" stroke="#f8a504"/>
<path d="M1263.0 640.3L1269.3 639.7" stroke="#f69c06"/>
<path d="M1269.3 639.7L1275.7 639.5" stroke="#f59308"/>
<path d="M1275.7 639.5L1282.1 639.7" stroke="#f48a0b"/>
<path d="M1282.1 639.7L1288.5 640.2" stroke="#f27f0d"/>
<path d="M1288.5 640.2L1294.8 641.1" stroke="#f07410"/>
<path d="M1294.8 641.1L1301.0 642.3" stroke="#ef6a13"/>
<path d="M1301.0 642.3L1307.2 643.9" stroke="#ed5e15"/>
<path d="M1307.2 643.9L1313.2 645.8" stroke="#eb5218"/>
<path d="M1313.2 645.8L1319.1 648.0" stroke="#e8461b"/>
<path d="M1319.1 648.0L1324.8 650.4" stroke="#e6361e"/>
<circle cx="1324.8" cy="650.4" r="4.3" fill="#e00026" stroke="none"/>
<path d="M1177.0 670.0L1181.4 666.3" stroke="#ffee00"/>
<path d="M1181.4 666.3L1186.1 662.5" stroke="#ffea00"/>
<path d="M1186.1 662.5L1191.0 658.9" stroke="#ffe700"/>
<path d="M1191.0 658.9L1196.1 655.3" stroke="#ffe300"/>
<path d="M1196.1 655.3L1201.6 651.7" stroke="#ffdf00"/>
<path d="M1201.6 651.7L1207.2 648.4" stroke="#fed900"/>
<path d="M1207.2 648.4L1213.1 645.1" stroke="#fdd000"/>
<path d="M1213.1 645.1L1219.2 642.1" stroke="#fcc800"/>
<path d="M1219.2 642.1L1225.5 639.3" stroke="#fbc000"/>
<path d="M1225.5 639.3L1232.0 636.7" stroke="#fab700"/>
<path d="M1232.0 636.7L1238.7 634.5" stroke="#f9af01"/>
<path d="M1238.7 634.5L1245.5 632.6" stroke="#f8a504"/>
<path d="M1245.5 632.6L1252.5 631.0" stroke="#f69c06"/>
<path d="M1252.5 631.0L1259.5 629.8" stroke="#f59308"/>
<path d="M1259.5 629.8L1266.6 629.0" stroke="#f48a0b"/>
<path d="M1266.6 629.0L1273.7 628.7" stroke="#f27f0d"/>
<path d="M1273.7 628.7L1280.9 628.7" stroke="#f07410"/>
<path d="M1280.9 628.7L1288.0 629.2" stroke="#ef6a13"/>
<path d="M1288.0 629.2L1295.1 630.1" stroke="#ed5e15"/>
<path d="M1295.1 630.1L1302.1 631.4" stroke="#eb5218"/>
<path d="M1302.1 631.4L1309.0 633.0" stroke="#e8461b"/>
<path d="M1309.0 633.0L1315.8 635.0" stroke="#e6361e"/>
<circle cx="1315.8" cy="635.0" r="4.3" fill="#e00026" stroke="none"/>
<path d="M1157.0 670.0L1161.4 666.4" stroke="#ffee00"/>
<path d="M1161.4 666.4L1166.0 662.7" stroke="#ffea00"/>
<path d="M1166.0 662.7L1170.9 659.0" stroke="#ffe700"/>
<path d="M1170.9 659.0L1176.1 655.3" stroke="#ffe300"/>
<path d="M1176.1 655.3L1181.5 651.5" stroke="#ffdf00"/>
<path d="M1181.5 651.5L1187.2 647.8" stroke="#fed900"/>
<path d="M1187.2 647.8L1193.2 644.2" stroke="#fdd000"/>
<path d="M1193.2 644.2L1199.4 640.6" stroke="#fcc800"/>
<path d="M1199.4 640.6L1205.8 637.2" stroke="#fbc000"/>
<path d="M1205.8 637.2L1212.5 633.9" stroke="#fab700"/>
<path d="M1212.5 633.9L1219.4 630.9" stroke="#f9af01"/>
<path d="M1219.4 630.9L1226.5 628.1" stroke="#f8a504"/>
<path d="M1226.5 628.1L1233.7 625.6" stroke="#f69c06"/>
<path d="M1233.7 625.6L1241.2 623.4" stroke="#f59308"/>
<path d="M1241.2 623.4L1248.8 621.7" stroke="#f48a0b"/>
<path d="M1248.8 621.7L1256.5 620.3" stroke="#f27f0d"/>
<path d="M1256.5 620.3L1264.2 619.4" stroke="#f07410"/>
<path d="M1264.2 619.4L1272.1 618.9" stroke="#ef6a13"/>
<path d="M1272.1 618.9L1279.9 618.9" stroke="#ed5e15"/>
<path d="M1279.9 618.9L1287.7 619.3" stroke="#eb5218"/>
<path d="M1287.7 619.3L1295.5 620.2" stroke="#e8461b"/>
<path d="M1295.5 620.2L1303.2 621.5" stroke="#e6361e"/>
<circle cx="1303.2" cy="621.5" r="4.3" fill="#e00026" stroke="none"/>
<path d="M1137.0 670.0L1141.4 666.9" stroke="#ffee00"/>
<path d="M1141.4 666.9L1146.0 663.6" stroke="#ffea00"/>
<path d="M1146.0 663.6L1150.8 660.2" stroke="#ffe700"/>
<path d="M1150.8 660.2L1155.9 656.7" stroke="#ffe300"/>
<path d="M1155.9 656.7L1161.2 653.1" stroke="#ffdf00"/>
<path d="M1161.2 653.1L1166.8 649.5" stroke="#fed900"/>
<path d="M1166.8 649.5L1172.6 645.7" stroke="#fdd000"/>
<path d="M1172.6 645.7L1178.7 642.0" stroke="#fcc800"/>
<path d="M1178.7 642.0L1185.0 638.3" stroke="#fbc000"/>
<path d="M1185.0 638.3L1191.6 634.6" stroke="#fab700"/>
<path d="M1191.6 634.6L1198.5 631.0" stroke="#f9af01"/>
<path d="M1198.5 631.0L1205.6 627.6" stroke="#f8a504"/>
<path d="M1205.6 627.6L1213.0 624.3" stroke="#f69c06"/>
<path d="M1213.0 624.3L1220.5 621.3" stroke="#f59308"/>
<path d="M1220.5 621.3L1228.3 618.6" stroke="#f48a0b"/>
<path d="M1228.3 618.6L1236.2 616.2" stroke="#f27f0d"/>
<path d="M1236.2 616.2L1244.3 614.2" stroke="#f07410"/>
<path d="M1244.3 614.2L1252.6 612.6" stroke="#ef6a13"/>
<path d="M1252.6 612.6L1260.9 611.4" stroke="#ed5e15"/>
<path d="M1260.9 611.4L1269.3 610.8" stroke="#eb5218"/>
<path d="M1269.3 610.8L1277.7 610.6" stroke="#e8461b"/>
<path d="M1277.7 610.6L1286.1 610.9" stroke="#e6361e"/>
<circle cx="1286.1" cy="610.9" r="4.3" fill="#e00026" stroke="none"/>
<path d="M1117.0 670.0L1121.3 667.7" stroke="#ffee00"/>
<path d="M1121.3 667.7L1125.9 665.1" stroke="#ffea00"/>
<path d="M1125.9 665.1L1130.6 662.4" stroke="#ffe700"/>
<path d="M1130.6 662.4L1135.5 659.5" stroke="#ffe300"/>
<path d="M1135.5 659.5L1140.6 656.4" stroke="#ffdf00"/>
<path d="M1140.6 656.4L1145.9 653.2" stroke="#fed900"/>
<path d="M1145.9 653.2L1151.4 649.8" stroke="#fdd000"/>
<path d="M1151.4 649.8L1157.2 646.3" stroke="#fcc800"/>
<path d="M1157.2 646.3L1163.3 642.6" stroke="#fbc000"/>
<path d="M1163.3 642.6L1169.6 638.9" stroke="#fab700"/>
<path d="M1169.6 638.9L1176.2 635.2" stroke="#f9af01"/>
<path d="M1176.2 635.2L1183.0 631.5" stroke="#f8a504"/>
<path d="M1183.0 631.5L1190.1 627.8" stroke="#f69c06"/>
<path d="M1190.1 627.8L1197.4 624.2" stroke="#f59308"/>
<path d="M1197.4 624.2L1205.0 620.7" stroke="#f48a0b"/>
<path d="M1205.0 620.7L1212.8 617.4" stroke="#f27f0d"/>
<path d="M1212.8 617.4L1220.9 614.4" stroke="#f07410"/>
<path d="M1220.9 614.4L1229.1 611.7" stroke="#ef6a13"/>
<path d="M1229.1 611.7L1237.5 609.4" stroke="#ed5e15"/>
<path d="M1237.5 609.4L1246.1 607.5" stroke="#eb5218"/>
<path d="M1246.1 607.5L1254.8 606.0" stroke="#e8461b"/>
<path d="M1254.8 606.0L1263.6 605.0" stroke="#e6361e"/>
<circle cx="1263.6" cy="605.0" r="4.3" fill="#e00026" stroke="none"/>
<path d="M1097.0 670.0L1101.3 668.7" stroke="#ffee00"/>
<path d="M1101.3 668.7L1105.7 667.1" stroke="#ffea00"/>
<path d="M1105.7 667.1L1110.2 665.4" stroke="#ffe700"/>
<path d="M1110.2 665.4L1114.9 663.3" stroke="#ffe300"/>
<path d="M1114.9 663.3L1119.7 661.1" stroke="#ffdf00"/>
<path d="M1119.7 661.1L1124.7 658.6" stroke="#fed900"/>
<path d="M1124.7 658.6L1129.8 656.0" stroke="#fdd000"/>
<path d="M1129.8 656.0L1135.2 653.1" stroke="#fcc800"/>
<path d="M1135.2 653.1L1140.7 650.0" stroke="#fbc000"/>
<path d="M1140.7 650.0L1146.5 646.7" stroke="#fab700"/>
<path d="M1146.5 646.7L1152.5 643.3" stroke="#f9af01"/>
<path d="M1152.5 643.3L1158.8 639.8" stroke="#f8a504"/>
<path d="M1158.8 639.8L1165.3 636.1" stroke="#f69c06"/>
<path d="M1165.3 636.1L1172.0 632.4" stroke="#f59308"/>
<path d="M1172.0 632.4L1179.1 628.7" stroke="#f48a0b"/>
<path d="M1179.1 628.7L1186.4 624.9" stroke="#f27f0d"/>
<path d="M1186.4 624.9L1193.9 621.3" stroke="#f07410"/>
<path d="M1193.9 621.3L1201.7 617.7" stroke="#ef6a13"/>
<path d="M1201.7 617.7L1209.7 614.4" stroke="#ed5e15"/>
<path d="M1209.7 614.4L1218.0 611.3" stroke="#eb5218"/>
<path d="M1218.0 611.3L1226.4 608.5" stroke="#e8461b"/>
<path d="M1226.4 608.5L1235.1 606.0" stroke="#e6361e"/>
<circle cx="1235.1" cy="606.0" r="4.3" fill="#e00026" stroke="none"/>
<path d="M1077.0 670.0L1081.3 669.8" stroke="#ffee00"/>
<path d="M1081.3 669.8L1085.6 669.4" stroke="#ffea00"/>
<path d="M1085.6 669.4L1089.9 668.8" stroke="#ffe700"/>
<path d="M1089.9 668.8L1094.3 667.9" stroke="#ffe300"/>
<path d="M1094.3 667.9L1098.7 666.7" stroke="#ffdf00"/>
<path d="M1098.7 666.7L1103.3 665.3" stroke="#fed900"/>
<path d="M1103.3 665.3L1107.9 663.6" stroke="#fdd000"/>
<path d="M1107.9 663.6L1112.7 661.7" stroke="#fcc800"/>
<path d="M1112.7 661.7L1117.6 659.6" stroke="#fbc000"/>
<path d="M1117.6 659.6L1122.7 657.2" stroke="#fab700"/>
<path d="M1122.7 657.2L1127.9 654.6" stroke="#f9af01"/>
<path d="M1127.9 654.6L1133.4 651.8" stroke="#f8a504"/>
<path d="M1133.4 651.8L1139.0 648.8" stroke="#f69c06"/>
<path d="M1139.0 648.8L1144.9 645.6" stroke="#f59308"/>
<path d="M1144.9 645.6L1151.0 642.2" stroke="#f48a0b"/>
<path d="M1151.0 642.2L1157.3 638.7" stroke="#f27f0d"/>
<path d="M1157.3 638.7L1163.9 635.0" stroke="#f07410"/>
<path d="M1163.9 635.0L1170.7 631.3" stroke="#ef6a13"/>
<path d="M1170.7 631.3L1177.8 627.6" stroke="#ed5e15"/>
<path d="M1177.8 627.6L1185.2 623.9" stroke="#eb5218"/>
<path d="M1185.2 623.9L1192.8 620.2" stroke="#e8461b"/>
<path d="M1192.8 620.2L1200.7 616.6" stroke="#e6361e"/>
<circle cx="1200.7" cy="616.6" r="4.3" fill="#e00026" stroke="none"/>
<path d="M1069.5 672.3L1073.6 672.6" stroke="#ffe300"/>
<path d="M1073.6 672.6L1077.7 672.6" stroke="#ffdf00"/>
<path d="M1077.7 672.6L1081.8 672.4" stroke="#fed900"/>
<path d="M1081.8 672.4L1085.9 672.0" stroke="#fdd000"/>
<path d="M1085.9 672.0L1090.0 671.3" stroke="#fcc800"/>
<path d="M1090.0 671.3L1094.3 670.4" stroke="#fbc000"/>
<path d="M1094.3 670.4L1098.5 669.2" stroke="#fab700"/>
<path d="M1098.5 669.2L1102.9 667.8" stroke="#f9af01"/>
<path d="M1102.9 667.8L1107.4 666.2" stroke="#f8a504"/>
<path d="M1107.4 666.2L1112.0 664.3" stroke="#f69c06"/>
<path d="M1112.0 664.3L1116.7 662.2" stroke="#f59308"/>
<path d="M1116.7 662.2L1121.6 659.9" stroke="#f48a0b"/>
<path d="M1121.6 659.9L1126.7 657.4" stroke="#f27f0d"/>
<path d="M1126.7 657.4L1131.9 654.6" stroke="#f07410"/>
<path d="M1131.9 654.6L1137.3 651.6" stroke="#ef6a13"/>
<path d="M1137.3 651.6L1143.0 648.5" stroke="#ed5e15"/>
<path d="M1143.0 648.5L1148.9 645.1" stroke="#eb5218"/>
<path d="M1148.9 645.1L1155.0 641.7" stroke="#e8461b"/>
<path d="M1155.0 641.7L1161.4 638.1" stroke="#e6361e"/>
<circle cx="1161.4" cy="638.1" r="4.3" fill="#e00026" stroke="none"/>
<path d="M1067.5 680.8L1071.0 681.2" stroke="#fbc000"/>
<path d="M1071.0 681.2L1074.5 681.4" stroke="#fab700"/>
<path d="M1074.5 681.4L1078.0 681.4" stroke="#f9af01"/>
<path d="M1078.0 681.4L1081.4 681.2" stroke="#f8a504"/>
<path d="M1081.4 681.2L1084.9 680.8" stroke="#f69c06"/>
<path d="M1084.9 680.8L1088.5 680.2" stroke="#f59308"/>
<path d="M1088.5 680.2L1092.0 679.4" stroke="#f48a0b"/>
<path d="M1092.0 679.4L1095.7 678.4" stroke="#f27f0d"/>
<path d="M1095.7 678.4L1099.4 677.2" stroke="#f07410"/>
<path d="M1099.4 677.2L1103.2 675.7" stroke="#ef6a13"/>
<path d="M1103.2 675.7L1107.1 674.1" stroke="#ed5e15"/>
<path d="M1107.1 674.1L1111.2 672.3" stroke="#eb5218"/>
<path d="M1111.2 672.3L1115.4 670.2" stroke="#e8461b"/>
<path d="M1115.4 670.2L1119.7 668.0" stroke="#e6361e"/>
<circle cx="1119.7" cy="668.0" r="4.3" fill="#e00026" stroke="none"/>
<path d="M1070.3 699.4L1072.5 699.7" stroke="#ed5e15"/>
<path d="M1072.5 699.7L1074.6 699.9" stroke="#eb5218"/>
<path d="M1074.6 699.9L1076.8 699.9" stroke="#e8461b"/>
<path d="M1076.8 699.9L1079.0 699.8" stroke="#e6361e"/>
<circle cx="1079.0" cy="699.8" r="4.3" fill="#e00026" stroke="none"/>
</g>
<g fill="none" stroke="#3a0f80" stroke-width="2.2">
<path d="M976.5 565V898"/><path d="M1476.2 565V898"/><path d="M1076.7 640V720" stroke-width="1.6"/>
</g>
<rect x="571.8" y="590" width="4.9" height="283" fill="#fff"/>

<!-- labels -->
<path d="M407.7 269.4L353.4 394.7" stroke="#000" stroke-width="2.2" fill="none"/>
<g font-weight="bold" font-size="34px" opacity="0.999">
<text x="267.5" y="106" fill="#e0002a" textLength="209" lengthAdjust="spacingAndGlyphs">Electron beam</text>
<text x="711.5" y="171" fill="#000" textLength="115" lengthAdjust="spacingAndGlyphs">Wiggler</text>
<text x="232.5" y="428" fill="#000" textLength="153.5" lengthAdjust="spacingAndGlyphs">Laser light</text>
<text x="1225.5" y="396" fill="#1a9fe0" textLength="99.5" lengthAdjust="spacingAndGlyphs">Mirror</text>
</g>
<g font-size="34.4px" fill="#111" stroke="#111" stroke-width="0.35" opacity="0.999">
<text x="360.2" y="955.5" textLength="187.9" lengthAdjust="spacingAndGlyphs">ELECTRON</text>
<text x="562.7" y="955.5" textLength="107.8" lengthAdjust="spacingAndGlyphs">PHASE</text>
<text x="686.5" y="955.5" textLength="166.3" lengthAdjust="spacingAndGlyphs">RELATIVE</text>
<text x="868.9" y="955.5" textLength="48" lengthAdjust="spacingAndGlyphs">TO</text>
<text x="933" y="955.5" textLength="150" lengthAdjust="spacingAndGlyphs">OPTICAL</text>
<text x="1098.5" y="955.5" textLength="96.7" lengthAdjust="spacingAndGlyphs">FIELD</text>
<text transform="translate(58.5 802) rotate(-90)" textLength="143.2" lengthAdjust="spacingAndGlyphs">ENERGY</text>
</g>
</svg>
</body></html>
